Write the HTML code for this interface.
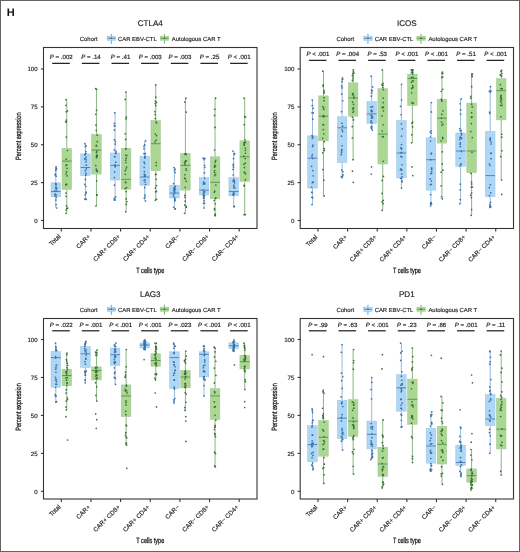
<!DOCTYPE html>
<html><head><meta charset="utf-8"><style>
html,body{margin:0;padding:0;background:#fff;}
svg{display:block;font-family:"Liberation Sans", sans-serif;will-change:transform;text-rendering:geometricPrecision;}
</style></head><body>
<svg width="520" height="552" viewBox="0 0 520 552">
<rect x="0" y="0" width="520" height="552" fill="#fff"/>
<rect x="0.5" y="0.5" width="519" height="551" fill="none" stroke="#646464" stroke-width="1"/>
<text x="6.8" y="16" font-size="11" font-weight="bold" fill="#111">H</text>
<text x="150.25" y="25.8" font-size="8.1" text-anchor="middle" fill="#1a1a1a" stroke="#1a1a1a" stroke-width="0.15">CTLA4</text>
<text x="79.85" y="40.7" font-size="5.9" fill="#222" stroke="#222" stroke-width="0.15">Cohort</text>
<line x1="111.35" y1="33.8" x2="111.35" y2="43.8" stroke="#4f88bf" stroke-width="0.8"/>
<rect x="107.15" y="36.1" width="8.4" height="4.4" fill="#aed6f5" stroke="#9cc2e2" stroke-width="0.4"/>
<line x1="107.15" y1="38.3" x2="115.55" y2="38.3" stroke="#4f88bf" stroke-width="0.8"/>
<circle cx="111.35" cy="38.2" r="0.85" fill="#3a70a8"/>
<line x1="164.45" y1="33.8" x2="164.45" y2="43.8" stroke="#5a9a4c" stroke-width="0.8"/>
<rect x="160.25" y="36.1" width="8.4" height="4.4" fill="#aad893" stroke="#a6c498" stroke-width="0.4"/>
<line x1="160.25" y1="38.3" x2="168.65" y2="38.3" stroke="#5a9a4c" stroke-width="0.8"/>
<circle cx="164.45" cy="38.2" r="0.85" fill="#3a6e38"/>
<text x="118.05" y="40.7" font-size="5.9" fill="#222" stroke="#222" stroke-width="0.15">CAR EBV-CTL</text>
<text x="171.85" y="40.7" font-size="5.9" fill="#222" stroke="#222" stroke-width="0.15">Autologous CAR T</text>
<line x1="55.79" y1="166.9" x2="55.79" y2="182.8" stroke="#7ca8d2" stroke-width="0.8"/>
<line x1="55.79" y1="196.8" x2="55.79" y2="208" stroke="#7ca8d2" stroke-width="0.8"/>
<rect x="50.99" y="182.8" width="9.6" height="14" fill="#aed6f5" stroke="#9cc2e2" stroke-width="0.5"/>
<line x1="50.99" y1="191.5" x2="60.59" y2="191.5" stroke="#4f88bf" stroke-width="1"/>
<circle cx="56.2" cy="184.91" r="0.85" fill="#3a70a8"/>
<circle cx="55.41" cy="183.81" r="0.85" fill="#3a70a8"/>
<circle cx="56.66" cy="187.92" r="0.85" fill="#3a70a8"/>
<circle cx="55.1" cy="174.97" r="0.85" fill="#3a70a8"/>
<circle cx="55.64" cy="173.79" r="0.85" fill="#3a70a8"/>
<circle cx="56.25" cy="168.34" r="0.85" fill="#3a70a8"/>
<circle cx="55.17" cy="194.38" r="0.85" fill="#3a70a8"/>
<circle cx="55.77" cy="170.45" r="0.85" fill="#3a70a8"/>
<circle cx="54.96" cy="196.07" r="0.85" fill="#3a70a8"/>
<circle cx="56.09" cy="188.35" r="0.85" fill="#3a70a8"/>
<circle cx="56.27" cy="197.32" r="0.85" fill="#3a70a8"/>
<circle cx="55.92" cy="200.04" r="0.85" fill="#3a70a8"/>
<circle cx="56.47" cy="168.77" r="0.85" fill="#3a70a8"/>
<circle cx="55.46" cy="194.23" r="0.85" fill="#3a70a8"/>
<circle cx="56.14" cy="176.15" r="0.85" fill="#3a70a8"/>
<circle cx="55.96" cy="188.01" r="0.85" fill="#3a70a8"/>
<circle cx="55.94" cy="183.68" r="0.85" fill="#3a70a8"/>
<circle cx="55.71" cy="170.17" r="0.85" fill="#3a70a8"/>
<circle cx="56.4" cy="188.79" r="0.85" fill="#3a70a8"/>
<circle cx="56.59" cy="191" r="0.85" fill="#3a70a8"/>
<circle cx="55.75" cy="187" r="0.85" fill="#3a70a8"/>
<circle cx="56.09" cy="204.63" r="0.85" fill="#3a70a8"/>
<circle cx="55" cy="190.84" r="0.85" fill="#3a70a8"/>
<circle cx="56.15" cy="195.05" r="0.85" fill="#3a70a8"/>
<circle cx="56.06" cy="166.9" r="0.85" fill="#3a70a8"/>
<circle cx="56.68" cy="208" r="0.85" fill="#3a70a8"/>
<line x1="66.79" y1="99.7" x2="66.79" y2="148.3" stroke="#6fa266" stroke-width="0.8"/>
<line x1="66.79" y1="189.5" x2="66.79" y2="213.3" stroke="#6fa266" stroke-width="0.8"/>
<rect x="61.99" y="148.3" width="9.6" height="41.2" fill="#aad893" stroke="#a6c498" stroke-width="0.5"/>
<line x1="61.99" y1="161.1" x2="71.59" y2="161.1" stroke="#5a9a4c" stroke-width="1"/>
<circle cx="66.08" cy="196.27" r="0.85" fill="#3a6e38"/>
<circle cx="67.03" cy="175.85" r="0.85" fill="#3a6e38"/>
<circle cx="66" cy="122.14" r="0.85" fill="#3a6e38"/>
<circle cx="66.01" cy="105.39" r="0.85" fill="#3a6e38"/>
<circle cx="66.27" cy="137.04" r="0.85" fill="#3a6e38"/>
<circle cx="66.18" cy="111.73" r="0.85" fill="#3a6e38"/>
<circle cx="66.5" cy="184.2" r="0.85" fill="#3a6e38"/>
<circle cx="65.99" cy="121.53" r="0.85" fill="#3a6e38"/>
<circle cx="65.89" cy="184.7" r="0.85" fill="#3a6e38"/>
<circle cx="66.16" cy="210.06" r="0.85" fill="#3a6e38"/>
<circle cx="66.07" cy="165.41" r="0.85" fill="#3a6e38"/>
<circle cx="66.55" cy="184.73" r="0.85" fill="#3a6e38"/>
<circle cx="65.94" cy="193.09" r="0.85" fill="#3a6e38"/>
<circle cx="67.47" cy="110.97" r="0.85" fill="#3a6e38"/>
<circle cx="67" cy="168.28" r="0.85" fill="#3a6e38"/>
<circle cx="66.16" cy="159.13" r="0.85" fill="#3a6e38"/>
<circle cx="66.35" cy="120.06" r="0.85" fill="#3a6e38"/>
<circle cx="66.52" cy="171.63" r="0.85" fill="#3a6e38"/>
<circle cx="66.55" cy="205.93" r="0.85" fill="#3a6e38"/>
<circle cx="66.11" cy="173.74" r="0.85" fill="#3a6e38"/>
<circle cx="67.42" cy="150.52" r="0.85" fill="#3a6e38"/>
<circle cx="67.68" cy="208.06" r="0.85" fill="#3a6e38"/>
<circle cx="66.73" cy="208.49" r="0.85" fill="#3a6e38"/>
<circle cx="66.76" cy="164.74" r="0.85" fill="#3a6e38"/>
<circle cx="66.05" cy="99.7" r="0.85" fill="#3a6e38"/>
<circle cx="66.08" cy="213.3" r="0.85" fill="#3a6e38"/>
<line x1="85.44" y1="143.7" x2="85.44" y2="153.9" stroke="#7ca8d2" stroke-width="0.8"/>
<line x1="85.44" y1="175.6" x2="85.44" y2="199.4" stroke="#7ca8d2" stroke-width="0.8"/>
<rect x="80.64" y="153.9" width="9.6" height="21.7" fill="#aed6f5" stroke="#9cc2e2" stroke-width="0.5"/>
<line x1="80.64" y1="167.5" x2="90.24" y2="167.5" stroke="#4f88bf" stroke-width="1"/>
<circle cx="86.06" cy="159.65" r="0.85" fill="#3a70a8"/>
<circle cx="85.41" cy="179.44" r="0.85" fill="#3a70a8"/>
<circle cx="85.72" cy="153.4" r="0.85" fill="#3a70a8"/>
<circle cx="85.98" cy="157.08" r="0.85" fill="#3a70a8"/>
<circle cx="84.7" cy="154.49" r="0.85" fill="#3a70a8"/>
<circle cx="85.73" cy="175.13" r="0.85" fill="#3a70a8"/>
<circle cx="86.18" cy="192.17" r="0.85" fill="#3a70a8"/>
<circle cx="85.95" cy="161.86" r="0.85" fill="#3a70a8"/>
<circle cx="85.89" cy="151.57" r="0.85" fill="#3a70a8"/>
<circle cx="85.4" cy="170.81" r="0.85" fill="#3a70a8"/>
<circle cx="84.87" cy="158.74" r="0.85" fill="#3a70a8"/>
<circle cx="85.96" cy="199.04" r="0.85" fill="#3a70a8"/>
<circle cx="85.14" cy="194.78" r="0.85" fill="#3a70a8"/>
<circle cx="85.99" cy="193.21" r="0.85" fill="#3a70a8"/>
<circle cx="86.29" cy="165.13" r="0.85" fill="#3a70a8"/>
<circle cx="85.26" cy="154.53" r="0.85" fill="#3a70a8"/>
<circle cx="85.27" cy="146.55" r="0.85" fill="#3a70a8"/>
<circle cx="86.25" cy="168.93" r="0.85" fill="#3a70a8"/>
<circle cx="85.85" cy="186.24" r="0.85" fill="#3a70a8"/>
<circle cx="84.85" cy="199.12" r="0.85" fill="#3a70a8"/>
<circle cx="84.77" cy="184.28" r="0.85" fill="#3a70a8"/>
<circle cx="84.82" cy="158.82" r="0.85" fill="#3a70a8"/>
<circle cx="86.17" cy="145.78" r="0.85" fill="#3a70a8"/>
<circle cx="86" cy="173.44" r="0.85" fill="#3a70a8"/>
<circle cx="84.81" cy="143.7" r="0.85" fill="#3a70a8"/>
<circle cx="86.03" cy="199.4" r="0.85" fill="#3a70a8"/>
<line x1="96.44" y1="88.6" x2="96.44" y2="134.4" stroke="#6fa266" stroke-width="0.8"/>
<line x1="96.44" y1="174.1" x2="96.44" y2="206" stroke="#6fa266" stroke-width="0.8"/>
<rect x="91.64" y="134.4" width="9.6" height="39.7" fill="#aad893" stroke="#a6c498" stroke-width="0.5"/>
<line x1="91.64" y1="150.1" x2="101.24" y2="150.1" stroke="#5a9a4c" stroke-width="1"/>
<circle cx="96.93" cy="195.07" r="0.85" fill="#3a6e38"/>
<circle cx="96.46" cy="156.18" r="0.85" fill="#3a6e38"/>
<circle cx="96.56" cy="89.25" r="0.85" fill="#3a6e38"/>
<circle cx="96.91" cy="194.82" r="0.85" fill="#3a6e38"/>
<circle cx="97.19" cy="171.46" r="0.85" fill="#3a6e38"/>
<circle cx="96.34" cy="169.01" r="0.85" fill="#3a6e38"/>
<circle cx="96.65" cy="180.83" r="0.85" fill="#3a6e38"/>
<circle cx="96.45" cy="146.03" r="0.85" fill="#3a6e38"/>
<circle cx="96.47" cy="157.68" r="0.85" fill="#3a6e38"/>
<circle cx="96.79" cy="151.03" r="0.85" fill="#3a6e38"/>
<circle cx="96.36" cy="130.28" r="0.85" fill="#3a6e38"/>
<circle cx="96.5" cy="152.59" r="0.85" fill="#3a6e38"/>
<circle cx="96.4" cy="170.3" r="0.85" fill="#3a6e38"/>
<circle cx="97.24" cy="170.83" r="0.85" fill="#3a6e38"/>
<circle cx="96.8" cy="155.51" r="0.85" fill="#3a6e38"/>
<circle cx="97.12" cy="135.14" r="0.85" fill="#3a6e38"/>
<circle cx="97.24" cy="141.67" r="0.85" fill="#3a6e38"/>
<circle cx="96.01" cy="125.2" r="0.85" fill="#3a6e38"/>
<circle cx="96.55" cy="110.29" r="0.85" fill="#3a6e38"/>
<circle cx="97.24" cy="156.49" r="0.85" fill="#3a6e38"/>
<circle cx="97.06" cy="154.98" r="0.85" fill="#3a6e38"/>
<circle cx="95.79" cy="165.54" r="0.85" fill="#3a6e38"/>
<circle cx="95.76" cy="114.26" r="0.85" fill="#3a6e38"/>
<circle cx="96.34" cy="145.39" r="0.85" fill="#3a6e38"/>
<circle cx="95.68" cy="88.6" r="0.85" fill="#3a6e38"/>
<circle cx="95.98" cy="206" r="0.85" fill="#3a6e38"/>
<line x1="115.1" y1="112.7" x2="115.1" y2="153" stroke="#7ca8d2" stroke-width="0.8"/>
<line x1="115.1" y1="180" x2="115.1" y2="200.2" stroke="#7ca8d2" stroke-width="0.8"/>
<rect x="110.3" y="153" width="9.6" height="27" fill="#aed6f5" stroke="#9cc2e2" stroke-width="0.5"/>
<line x1="110.3" y1="165.4" x2="119.9" y2="165.4" stroke="#4f88bf" stroke-width="1"/>
<circle cx="114.36" cy="139.68" r="0.85" fill="#3a70a8"/>
<circle cx="114.3" cy="198.12" r="0.85" fill="#3a70a8"/>
<circle cx="115.44" cy="141.56" r="0.85" fill="#3a70a8"/>
<circle cx="114.96" cy="156.86" r="0.85" fill="#3a70a8"/>
<circle cx="114.33" cy="199.54" r="0.85" fill="#3a70a8"/>
<circle cx="115.89" cy="151.09" r="0.85" fill="#3a70a8"/>
<circle cx="115.34" cy="166.16" r="0.85" fill="#3a70a8"/>
<circle cx="115.64" cy="196.82" r="0.85" fill="#3a70a8"/>
<circle cx="114.35" cy="130.09" r="0.85" fill="#3a70a8"/>
<circle cx="115.74" cy="162.16" r="0.85" fill="#3a70a8"/>
<circle cx="114.32" cy="125.54" r="0.85" fill="#3a70a8"/>
<circle cx="115.75" cy="153.53" r="0.85" fill="#3a70a8"/>
<circle cx="115.01" cy="164.89" r="0.85" fill="#3a70a8"/>
<circle cx="114.81" cy="126.06" r="0.85" fill="#3a70a8"/>
<circle cx="115.19" cy="166.83" r="0.85" fill="#3a70a8"/>
<circle cx="115.87" cy="152.4" r="0.85" fill="#3a70a8"/>
<circle cx="114.68" cy="199.63" r="0.85" fill="#3a70a8"/>
<circle cx="114.43" cy="123.4" r="0.85" fill="#3a70a8"/>
<circle cx="115.15" cy="144.09" r="0.85" fill="#3a70a8"/>
<circle cx="114.63" cy="156.5" r="0.85" fill="#3a70a8"/>
<circle cx="114.39" cy="177.61" r="0.85" fill="#3a70a8"/>
<circle cx="114.49" cy="185.22" r="0.85" fill="#3a70a8"/>
<circle cx="114.29" cy="149.74" r="0.85" fill="#3a70a8"/>
<circle cx="114.56" cy="171.91" r="0.85" fill="#3a70a8"/>
<circle cx="114.76" cy="112.7" r="0.85" fill="#3a70a8"/>
<circle cx="114.75" cy="200.2" r="0.85" fill="#3a70a8"/>
<line x1="126.1" y1="92.1" x2="126.1" y2="148.3" stroke="#6fa266" stroke-width="0.8"/>
<line x1="126.1" y1="189.2" x2="126.1" y2="211.8" stroke="#6fa266" stroke-width="0.8"/>
<rect x="121.3" y="148.3" width="9.6" height="40.9" fill="#aad893" stroke="#a6c498" stroke-width="0.5"/>
<line x1="121.3" y1="179.4" x2="130.9" y2="179.4" stroke="#5a9a4c" stroke-width="1"/>
<circle cx="125.64" cy="160.16" r="0.85" fill="#3a6e38"/>
<circle cx="126.94" cy="155.58" r="0.85" fill="#3a6e38"/>
<circle cx="125.75" cy="149.04" r="0.85" fill="#3a6e38"/>
<circle cx="125.84" cy="148.93" r="0.85" fill="#3a6e38"/>
<circle cx="125.2" cy="170.84" r="0.85" fill="#3a6e38"/>
<circle cx="125.88" cy="118.78" r="0.85" fill="#3a6e38"/>
<circle cx="126.05" cy="191.6" r="0.85" fill="#3a6e38"/>
<circle cx="126.1" cy="198.97" r="0.85" fill="#3a6e38"/>
<circle cx="125.56" cy="182.44" r="0.85" fill="#3a6e38"/>
<circle cx="126.11" cy="169.02" r="0.85" fill="#3a6e38"/>
<circle cx="125.21" cy="188.48" r="0.85" fill="#3a6e38"/>
<circle cx="125.67" cy="182.34" r="0.85" fill="#3a6e38"/>
<circle cx="125.36" cy="174.31" r="0.85" fill="#3a6e38"/>
<circle cx="125.92" cy="162.51" r="0.85" fill="#3a6e38"/>
<circle cx="125.27" cy="99.4" r="0.85" fill="#3a6e38"/>
<circle cx="125.24" cy="133.74" r="0.85" fill="#3a6e38"/>
<circle cx="125.74" cy="154.98" r="0.85" fill="#3a6e38"/>
<circle cx="125.62" cy="139.38" r="0.85" fill="#3a6e38"/>
<circle cx="126.25" cy="204.35" r="0.85" fill="#3a6e38"/>
<circle cx="126.15" cy="158.21" r="0.85" fill="#3a6e38"/>
<circle cx="126.55" cy="167.09" r="0.85" fill="#3a6e38"/>
<circle cx="126.38" cy="117.16" r="0.85" fill="#3a6e38"/>
<circle cx="126.49" cy="187.64" r="0.85" fill="#3a6e38"/>
<circle cx="126.78" cy="201.56" r="0.85" fill="#3a6e38"/>
<circle cx="125.9" cy="92.1" r="0.85" fill="#3a6e38"/>
<circle cx="125.78" cy="211.8" r="0.85" fill="#3a6e38"/>
<line x1="144.75" y1="140.8" x2="144.75" y2="156.2" stroke="#7ca8d2" stroke-width="0.8"/>
<line x1="144.75" y1="185.2" x2="144.75" y2="201" stroke="#7ca8d2" stroke-width="0.8"/>
<rect x="139.95" y="156.2" width="9.6" height="29" fill="#aed6f5" stroke="#9cc2e2" stroke-width="0.5"/>
<line x1="139.95" y1="177" x2="149.55" y2="177" stroke="#4f88bf" stroke-width="1"/>
<circle cx="144.71" cy="187.56" r="0.85" fill="#3a70a8"/>
<circle cx="145.08" cy="174.85" r="0.85" fill="#3a70a8"/>
<circle cx="145.23" cy="153.66" r="0.85" fill="#3a70a8"/>
<circle cx="144.96" cy="195.11" r="0.85" fill="#3a70a8"/>
<circle cx="145.01" cy="179.75" r="0.85" fill="#3a70a8"/>
<circle cx="143.99" cy="148.87" r="0.85" fill="#3a70a8"/>
<circle cx="144.12" cy="180.41" r="0.85" fill="#3a70a8"/>
<circle cx="144.31" cy="198.26" r="0.85" fill="#3a70a8"/>
<circle cx="145.19" cy="182.09" r="0.85" fill="#3a70a8"/>
<circle cx="144.4" cy="176.31" r="0.85" fill="#3a70a8"/>
<circle cx="144.87" cy="157.1" r="0.85" fill="#3a70a8"/>
<circle cx="143.87" cy="146.35" r="0.85" fill="#3a70a8"/>
<circle cx="143.96" cy="153.67" r="0.85" fill="#3a70a8"/>
<circle cx="144.33" cy="174.41" r="0.85" fill="#3a70a8"/>
<circle cx="145.06" cy="175.94" r="0.85" fill="#3a70a8"/>
<circle cx="145.1" cy="156.3" r="0.85" fill="#3a70a8"/>
<circle cx="145.07" cy="197.02" r="0.85" fill="#3a70a8"/>
<circle cx="144.37" cy="171.72" r="0.85" fill="#3a70a8"/>
<circle cx="144.78" cy="158.12" r="0.85" fill="#3a70a8"/>
<circle cx="144.69" cy="163.51" r="0.85" fill="#3a70a8"/>
<circle cx="144.69" cy="144.89" r="0.85" fill="#3a70a8"/>
<circle cx="144.06" cy="162.15" r="0.85" fill="#3a70a8"/>
<circle cx="145.46" cy="184.5" r="0.85" fill="#3a70a8"/>
<circle cx="144.21" cy="167.29" r="0.85" fill="#3a70a8"/>
<circle cx="145.61" cy="140.8" r="0.85" fill="#3a70a8"/>
<circle cx="145.54" cy="201" r="0.85" fill="#3a70a8"/>
<line x1="155.75" y1="84.9" x2="155.75" y2="120.5" stroke="#6fa266" stroke-width="0.8"/>
<line x1="155.75" y1="170.7" x2="155.75" y2="200.2" stroke="#6fa266" stroke-width="0.8"/>
<rect x="150.95" y="120.5" width="9.6" height="50.2" fill="#aad893" stroke="#a6c498" stroke-width="0.5"/>
<line x1="150.95" y1="143.7" x2="160.55" y2="143.7" stroke="#5a9a4c" stroke-width="1"/>
<circle cx="155.36" cy="101.24" r="0.85" fill="#3a6e38"/>
<circle cx="156.53" cy="199.26" r="0.85" fill="#3a6e38"/>
<circle cx="155.3" cy="133.99" r="0.85" fill="#3a6e38"/>
<circle cx="155.33" cy="118.56" r="0.85" fill="#3a6e38"/>
<circle cx="155.77" cy="105.6" r="0.85" fill="#3a6e38"/>
<circle cx="155.19" cy="103.56" r="0.85" fill="#3a6e38"/>
<circle cx="155.52" cy="174.61" r="0.85" fill="#3a6e38"/>
<circle cx="156.57" cy="185.71" r="0.85" fill="#3a6e38"/>
<circle cx="156.44" cy="191.45" r="0.85" fill="#3a6e38"/>
<circle cx="156.31" cy="165.56" r="0.85" fill="#3a6e38"/>
<circle cx="155.99" cy="121.75" r="0.85" fill="#3a6e38"/>
<circle cx="156.49" cy="102.4" r="0.85" fill="#3a6e38"/>
<circle cx="156.54" cy="135.66" r="0.85" fill="#3a6e38"/>
<circle cx="155.84" cy="97.14" r="0.85" fill="#3a6e38"/>
<circle cx="156.15" cy="162.68" r="0.85" fill="#3a6e38"/>
<circle cx="154.94" cy="111.63" r="0.85" fill="#3a6e38"/>
<circle cx="156.17" cy="174.24" r="0.85" fill="#3a6e38"/>
<circle cx="155.66" cy="191.73" r="0.85" fill="#3a6e38"/>
<circle cx="156.2" cy="179.25" r="0.85" fill="#3a6e38"/>
<circle cx="156.01" cy="140.22" r="0.85" fill="#3a6e38"/>
<circle cx="155.37" cy="188.08" r="0.85" fill="#3a6e38"/>
<circle cx="154.94" cy="141.99" r="0.85" fill="#3a6e38"/>
<circle cx="156.52" cy="122.92" r="0.85" fill="#3a6e38"/>
<circle cx="155.08" cy="114.61" r="0.85" fill="#3a6e38"/>
<circle cx="155.7" cy="84.9" r="0.85" fill="#3a6e38"/>
<circle cx="155.47" cy="200.2" r="0.85" fill="#3a6e38"/>
<line x1="174.4" y1="167.5" x2="174.4" y2="185.2" stroke="#7ca8d2" stroke-width="0.8"/>
<line x1="174.4" y1="198" x2="174.4" y2="208.9" stroke="#7ca8d2" stroke-width="0.8"/>
<rect x="169.6" y="185.2" width="9.6" height="12.8" fill="#aed6f5" stroke="#9cc2e2" stroke-width="0.5"/>
<line x1="169.6" y1="193" x2="179.2" y2="193" stroke="#4f88bf" stroke-width="1"/>
<circle cx="173.56" cy="194.66" r="0.85" fill="#3a70a8"/>
<circle cx="174.78" cy="200.84" r="0.85" fill="#3a70a8"/>
<circle cx="175.12" cy="189.05" r="0.85" fill="#3a70a8"/>
<circle cx="174.35" cy="190.25" r="0.85" fill="#3a70a8"/>
<circle cx="174.56" cy="170.36" r="0.85" fill="#3a70a8"/>
<circle cx="173.5" cy="183.54" r="0.85" fill="#3a70a8"/>
<circle cx="174.21" cy="188.02" r="0.85" fill="#3a70a8"/>
<circle cx="175.17" cy="208.86" r="0.85" fill="#3a70a8"/>
<circle cx="174.99" cy="186.99" r="0.85" fill="#3a70a8"/>
<circle cx="175.04" cy="169.11" r="0.85" fill="#3a70a8"/>
<circle cx="175.25" cy="186.37" r="0.85" fill="#3a70a8"/>
<circle cx="173.95" cy="188.51" r="0.85" fill="#3a70a8"/>
<circle cx="173.7" cy="196.56" r="0.85" fill="#3a70a8"/>
<circle cx="173.78" cy="190.48" r="0.85" fill="#3a70a8"/>
<circle cx="174.44" cy="191.91" r="0.85" fill="#3a70a8"/>
<circle cx="174.73" cy="189.53" r="0.85" fill="#3a70a8"/>
<circle cx="175.2" cy="172.41" r="0.85" fill="#3a70a8"/>
<circle cx="174.8" cy="199.37" r="0.85" fill="#3a70a8"/>
<circle cx="174.67" cy="193.26" r="0.85" fill="#3a70a8"/>
<circle cx="174.88" cy="200.35" r="0.85" fill="#3a70a8"/>
<circle cx="174.33" cy="188.38" r="0.85" fill="#3a70a8"/>
<circle cx="174.5" cy="190.91" r="0.85" fill="#3a70a8"/>
<circle cx="173.57" cy="207.25" r="0.85" fill="#3a70a8"/>
<circle cx="174.91" cy="198.24" r="0.85" fill="#3a70a8"/>
<circle cx="173.92" cy="167.5" r="0.85" fill="#3a70a8"/>
<circle cx="175.16" cy="208.9" r="0.85" fill="#3a70a8"/>
<line x1="185.4" y1="98.2" x2="185.4" y2="153.3" stroke="#6fa266" stroke-width="0.8"/>
<line x1="185.4" y1="190.1" x2="185.4" y2="213.3" stroke="#6fa266" stroke-width="0.8"/>
<rect x="180.6" y="153.3" width="9.6" height="36.8" fill="#aad893" stroke="#a6c498" stroke-width="0.5"/>
<line x1="180.6" y1="165.4" x2="190.2" y2="165.4" stroke="#5a9a4c" stroke-width="1"/>
<circle cx="185.03" cy="164.48" r="0.85" fill="#3a6e38"/>
<circle cx="186.22" cy="112.07" r="0.85" fill="#3a6e38"/>
<circle cx="185.4" cy="179.01" r="0.85" fill="#3a6e38"/>
<circle cx="184.84" cy="102.08" r="0.85" fill="#3a6e38"/>
<circle cx="184.9" cy="174.75" r="0.85" fill="#3a6e38"/>
<circle cx="185.25" cy="161.53" r="0.85" fill="#3a6e38"/>
<circle cx="185.7" cy="153.68" r="0.85" fill="#3a6e38"/>
<circle cx="186.21" cy="170.25" r="0.85" fill="#3a6e38"/>
<circle cx="184.77" cy="205.05" r="0.85" fill="#3a6e38"/>
<circle cx="185.21" cy="201.13" r="0.85" fill="#3a6e38"/>
<circle cx="184.89" cy="162.39" r="0.85" fill="#3a6e38"/>
<circle cx="186.26" cy="206.45" r="0.85" fill="#3a6e38"/>
<circle cx="184.76" cy="154.1" r="0.85" fill="#3a6e38"/>
<circle cx="184.6" cy="178.12" r="0.85" fill="#3a6e38"/>
<circle cx="184.61" cy="162.77" r="0.85" fill="#3a6e38"/>
<circle cx="185.21" cy="187.35" r="0.85" fill="#3a6e38"/>
<circle cx="186.12" cy="154.55" r="0.85" fill="#3a6e38"/>
<circle cx="186.09" cy="168.78" r="0.85" fill="#3a6e38"/>
<circle cx="185.82" cy="160.59" r="0.85" fill="#3a6e38"/>
<circle cx="186.3" cy="207.25" r="0.85" fill="#3a6e38"/>
<circle cx="186.18" cy="160.85" r="0.85" fill="#3a6e38"/>
<circle cx="185.1" cy="197.33" r="0.85" fill="#3a6e38"/>
<circle cx="184.84" cy="195.45" r="0.85" fill="#3a6e38"/>
<circle cx="186.19" cy="181.29" r="0.85" fill="#3a6e38"/>
<circle cx="185.85" cy="98.2" r="0.85" fill="#3a6e38"/>
<circle cx="184.56" cy="213.3" r="0.85" fill="#3a6e38"/>
<line x1="204.06" y1="158.2" x2="204.06" y2="177.6" stroke="#7ca8d2" stroke-width="0.8"/>
<line x1="204.06" y1="195" x2="204.06" y2="208" stroke="#7ca8d2" stroke-width="0.8"/>
<rect x="199.26" y="177.6" width="9.6" height="17.4" fill="#aed6f5" stroke="#9cc2e2" stroke-width="0.5"/>
<line x1="199.26" y1="190.1" x2="208.86" y2="190.1" stroke="#4f88bf" stroke-width="1"/>
<circle cx="203.58" cy="184.19" r="0.85" fill="#3a70a8"/>
<circle cx="204.01" cy="183.37" r="0.85" fill="#3a70a8"/>
<circle cx="204.88" cy="158.26" r="0.85" fill="#3a70a8"/>
<circle cx="204.87" cy="183.72" r="0.85" fill="#3a70a8"/>
<circle cx="203.85" cy="196.61" r="0.85" fill="#3a70a8"/>
<circle cx="203.61" cy="197.7" r="0.85" fill="#3a70a8"/>
<circle cx="203.93" cy="191.9" r="0.85" fill="#3a70a8"/>
<circle cx="204.04" cy="200.62" r="0.85" fill="#3a70a8"/>
<circle cx="204.83" cy="167.39" r="0.85" fill="#3a70a8"/>
<circle cx="203.48" cy="193.6" r="0.85" fill="#3a70a8"/>
<circle cx="204.6" cy="165.27" r="0.85" fill="#3a70a8"/>
<circle cx="204.48" cy="195.39" r="0.85" fill="#3a70a8"/>
<circle cx="204.64" cy="191.73" r="0.85" fill="#3a70a8"/>
<circle cx="204.55" cy="178.31" r="0.85" fill="#3a70a8"/>
<circle cx="204.25" cy="159.41" r="0.85" fill="#3a70a8"/>
<circle cx="203.75" cy="198.34" r="0.85" fill="#3a70a8"/>
<circle cx="203.73" cy="193.23" r="0.85" fill="#3a70a8"/>
<circle cx="203.81" cy="182.34" r="0.85" fill="#3a70a8"/>
<circle cx="204.56" cy="203.02" r="0.85" fill="#3a70a8"/>
<circle cx="203.3" cy="190.07" r="0.85" fill="#3a70a8"/>
<circle cx="203.51" cy="182.4" r="0.85" fill="#3a70a8"/>
<circle cx="204.51" cy="172.86" r="0.85" fill="#3a70a8"/>
<circle cx="203.6" cy="203.24" r="0.85" fill="#3a70a8"/>
<circle cx="203.27" cy="195.32" r="0.85" fill="#3a70a8"/>
<circle cx="203.22" cy="158.2" r="0.85" fill="#3a70a8"/>
<circle cx="204.15" cy="208" r="0.85" fill="#3a70a8"/>
<line x1="215.06" y1="98.2" x2="215.06" y2="156.8" stroke="#6fa266" stroke-width="0.8"/>
<line x1="215.06" y1="198.8" x2="215.06" y2="215.6" stroke="#6fa266" stroke-width="0.8"/>
<rect x="210.26" y="156.8" width="9.6" height="42" fill="#aad893" stroke="#a6c498" stroke-width="0.5"/>
<line x1="210.26" y1="182.3" x2="219.86" y2="182.3" stroke="#5a9a4c" stroke-width="1"/>
<circle cx="215.83" cy="197.97" r="0.85" fill="#3a6e38"/>
<circle cx="214.83" cy="215.4" r="0.85" fill="#3a6e38"/>
<circle cx="215.71" cy="160.33" r="0.85" fill="#3a6e38"/>
<circle cx="214.96" cy="127.41" r="0.85" fill="#3a6e38"/>
<circle cx="214.62" cy="175.57" r="0.85" fill="#3a6e38"/>
<circle cx="215.56" cy="174.31" r="0.85" fill="#3a6e38"/>
<circle cx="215.86" cy="185.11" r="0.85" fill="#3a6e38"/>
<circle cx="214.35" cy="192.37" r="0.85" fill="#3a6e38"/>
<circle cx="215.23" cy="161.89" r="0.85" fill="#3a6e38"/>
<circle cx="215.27" cy="203.74" r="0.85" fill="#3a6e38"/>
<circle cx="214.55" cy="172.46" r="0.85" fill="#3a6e38"/>
<circle cx="214.82" cy="165.17" r="0.85" fill="#3a6e38"/>
<circle cx="214.41" cy="167.1" r="0.85" fill="#3a6e38"/>
<circle cx="214.52" cy="150.01" r="0.85" fill="#3a6e38"/>
<circle cx="214.61" cy="170.51" r="0.85" fill="#3a6e38"/>
<circle cx="215.23" cy="198.48" r="0.85" fill="#3a6e38"/>
<circle cx="215.33" cy="166.52" r="0.85" fill="#3a6e38"/>
<circle cx="214.52" cy="209.78" r="0.85" fill="#3a6e38"/>
<circle cx="214.18" cy="200.52" r="0.85" fill="#3a6e38"/>
<circle cx="214.74" cy="191.2" r="0.85" fill="#3a6e38"/>
<circle cx="215.38" cy="214.16" r="0.85" fill="#3a6e38"/>
<circle cx="214.49" cy="115.41" r="0.85" fill="#3a6e38"/>
<circle cx="214.72" cy="109.31" r="0.85" fill="#3a6e38"/>
<circle cx="214.52" cy="208.6" r="0.85" fill="#3a6e38"/>
<circle cx="215.59" cy="98.2" r="0.85" fill="#3a6e38"/>
<circle cx="215.14" cy="215.6" r="0.85" fill="#3a6e38"/>
<line x1="233.71" y1="151" x2="233.71" y2="177.6" stroke="#7ca8d2" stroke-width="0.8"/>
<line x1="233.71" y1="195.9" x2="233.71" y2="206.6" stroke="#7ca8d2" stroke-width="0.8"/>
<rect x="228.91" y="177.6" width="9.6" height="18.3" fill="#aed6f5" stroke="#9cc2e2" stroke-width="0.5"/>
<line x1="228.91" y1="191.5" x2="238.51" y2="191.5" stroke="#4f88bf" stroke-width="1"/>
<circle cx="234.51" cy="153.7" r="0.85" fill="#3a70a8"/>
<circle cx="234.56" cy="187.67" r="0.85" fill="#3a70a8"/>
<circle cx="233.68" cy="179.27" r="0.85" fill="#3a70a8"/>
<circle cx="232.9" cy="169.5" r="0.85" fill="#3a70a8"/>
<circle cx="234.48" cy="182.78" r="0.85" fill="#3a70a8"/>
<circle cx="233.51" cy="195.04" r="0.85" fill="#3a70a8"/>
<circle cx="234.44" cy="187.97" r="0.85" fill="#3a70a8"/>
<circle cx="233.92" cy="185.22" r="0.85" fill="#3a70a8"/>
<circle cx="234.29" cy="206.56" r="0.85" fill="#3a70a8"/>
<circle cx="233.1" cy="181.21" r="0.85" fill="#3a70a8"/>
<circle cx="234.22" cy="181.33" r="0.85" fill="#3a70a8"/>
<circle cx="233.21" cy="174.98" r="0.85" fill="#3a70a8"/>
<circle cx="233.54" cy="192.61" r="0.85" fill="#3a70a8"/>
<circle cx="234.33" cy="193.76" r="0.85" fill="#3a70a8"/>
<circle cx="234.3" cy="180.57" r="0.85" fill="#3a70a8"/>
<circle cx="233.14" cy="165.67" r="0.85" fill="#3a70a8"/>
<circle cx="233.2" cy="194.25" r="0.85" fill="#3a70a8"/>
<circle cx="233.53" cy="167.55" r="0.85" fill="#3a70a8"/>
<circle cx="233.74" cy="186.83" r="0.85" fill="#3a70a8"/>
<circle cx="233.5" cy="158.54" r="0.85" fill="#3a70a8"/>
<circle cx="233.03" cy="194.54" r="0.85" fill="#3a70a8"/>
<circle cx="233.25" cy="164.05" r="0.85" fill="#3a70a8"/>
<circle cx="234.11" cy="206.25" r="0.85" fill="#3a70a8"/>
<circle cx="234.42" cy="154.37" r="0.85" fill="#3a70a8"/>
<circle cx="232.88" cy="151" r="0.85" fill="#3a70a8"/>
<circle cx="233.82" cy="206.6" r="0.85" fill="#3a70a8"/>
<line x1="244.71" y1="98.2" x2="244.71" y2="140.8" stroke="#6fa266" stroke-width="0.8"/>
<line x1="244.71" y1="181.4" x2="244.71" y2="214.7" stroke="#6fa266" stroke-width="0.8"/>
<rect x="239.91" y="140.8" width="9.6" height="40.6" fill="#aad893" stroke="#a6c498" stroke-width="0.5"/>
<line x1="239.91" y1="156.8" x2="249.51" y2="156.8" stroke="#5a9a4c" stroke-width="1"/>
<circle cx="245.46" cy="142.35" r="0.85" fill="#3a6e38"/>
<circle cx="244.11" cy="185.32" r="0.85" fill="#3a6e38"/>
<circle cx="245.23" cy="163.13" r="0.85" fill="#3a6e38"/>
<circle cx="245.48" cy="153.23" r="0.85" fill="#3a6e38"/>
<circle cx="243.93" cy="164.45" r="0.85" fill="#3a6e38"/>
<circle cx="244.44" cy="167.55" r="0.85" fill="#3a6e38"/>
<circle cx="245.17" cy="158.6" r="0.85" fill="#3a6e38"/>
<circle cx="244.09" cy="124.56" r="0.85" fill="#3a6e38"/>
<circle cx="245.42" cy="150.35" r="0.85" fill="#3a6e38"/>
<circle cx="244.3" cy="172.47" r="0.85" fill="#3a6e38"/>
<circle cx="245.28" cy="148.09" r="0.85" fill="#3a6e38"/>
<circle cx="244.07" cy="145.15" r="0.85" fill="#3a6e38"/>
<circle cx="244.71" cy="116.54" r="0.85" fill="#3a6e38"/>
<circle cx="245.46" cy="117.03" r="0.85" fill="#3a6e38"/>
<circle cx="244.18" cy="142.46" r="0.85" fill="#3a6e38"/>
<circle cx="244.28" cy="144.14" r="0.85" fill="#3a6e38"/>
<circle cx="244.72" cy="172.37" r="0.85" fill="#3a6e38"/>
<circle cx="244.38" cy="143" r="0.85" fill="#3a6e38"/>
<circle cx="243.87" cy="156.14" r="0.85" fill="#3a6e38"/>
<circle cx="244.14" cy="185.93" r="0.85" fill="#3a6e38"/>
<circle cx="244.1" cy="214.57" r="0.85" fill="#3a6e38"/>
<circle cx="245.49" cy="173.89" r="0.85" fill="#3a6e38"/>
<circle cx="245.03" cy="140.02" r="0.85" fill="#3a6e38"/>
<circle cx="245.42" cy="179.64" r="0.85" fill="#3a6e38"/>
<circle cx="244.11" cy="98.2" r="0.85" fill="#3a6e38"/>
<circle cx="245.22" cy="214.7" r="0.85" fill="#3a6e38"/>
<text x="61.29" y="59.4" font-size="6.1" text-anchor="middle" fill="#222" stroke="#222" stroke-width="0.18"><tspan font-style="italic">P</tspan> = .002</text>
<line x1="52.19" y1="63.35" x2="69.79" y2="63.35" stroke="#1a1a1a" stroke-width="1.2"/>
<text x="90.94" y="59.4" font-size="6.1" text-anchor="middle" fill="#222" stroke="#222" stroke-width="0.18"><tspan font-style="italic">P</tspan> = .14</text>
<line x1="81.84" y1="63.35" x2="99.44" y2="63.35" stroke="#1a1a1a" stroke-width="1.2"/>
<text x="120.6" y="59.4" font-size="6.1" text-anchor="middle" fill="#222" stroke="#222" stroke-width="0.18"><tspan font-style="italic">P</tspan> = .41</text>
<line x1="111.5" y1="63.35" x2="129.1" y2="63.35" stroke="#1a1a1a" stroke-width="1.2"/>
<text x="150.25" y="59.4" font-size="6.1" text-anchor="middle" fill="#222" stroke="#222" stroke-width="0.18"><tspan font-style="italic">P</tspan> = .003</text>
<line x1="141.15" y1="63.35" x2="158.75" y2="63.35" stroke="#1a1a1a" stroke-width="1.2"/>
<text x="179.9" y="59.4" font-size="6.1" text-anchor="middle" fill="#222" stroke="#222" stroke-width="0.18"><tspan font-style="italic">P</tspan> = .003</text>
<line x1="170.8" y1="63.35" x2="188.4" y2="63.35" stroke="#1a1a1a" stroke-width="1.2"/>
<text x="209.56" y="59.4" font-size="6.1" text-anchor="middle" fill="#222" stroke="#222" stroke-width="0.18"><tspan font-style="italic">P</tspan> = .25</text>
<line x1="200.46" y1="63.35" x2="218.06" y2="63.35" stroke="#1a1a1a" stroke-width="1.2"/>
<text x="239.21" y="59.4" font-size="6.1" text-anchor="middle" fill="#222" stroke="#222" stroke-width="0.18"><tspan font-style="italic">P</tspan> < .001</text>
<line x1="230.11" y1="63.35" x2="247.71" y2="63.35" stroke="#1a1a1a" stroke-width="1.2"/>
<rect x="43.5" y="47.5" width="213.5" height="181" fill="none" stroke="#353535" stroke-width="1.1"/>
<line x1="40.9" y1="220.5" x2="43.5" y2="220.5" stroke="#353535" stroke-width="1.1"/>
<text x="37.6" y="222.7" font-size="6.1" text-anchor="end" fill="#222" stroke="#222" stroke-width="0.15">0</text>
<line x1="40.9" y1="182.62" x2="43.5" y2="182.62" stroke="#353535" stroke-width="1.1"/>
<text x="37.6" y="184.82" font-size="6.1" text-anchor="end" fill="#222" stroke="#222" stroke-width="0.15">25</text>
<line x1="40.9" y1="144.75" x2="43.5" y2="144.75" stroke="#353535" stroke-width="1.1"/>
<text x="37.6" y="146.95" font-size="6.1" text-anchor="end" fill="#222" stroke="#222" stroke-width="0.15">50</text>
<line x1="40.9" y1="106.88" x2="43.5" y2="106.88" stroke="#353535" stroke-width="1.1"/>
<text x="37.6" y="109.08" font-size="6.1" text-anchor="end" fill="#222" stroke="#222" stroke-width="0.15">75</text>
<line x1="40.9" y1="69" x2="43.5" y2="69" stroke="#353535" stroke-width="1.1"/>
<text x="37.6" y="71.2" font-size="6.1" text-anchor="end" fill="#222" stroke="#222" stroke-width="0.15">100</text>
<line x1="61.29" y1="228.5" x2="61.29" y2="231.6" stroke="#353535" stroke-width="1.1"/>
<text transform="translate(61.19,236.9) rotate(-45)" font-size="6.3" text-anchor="end" fill="#222" stroke="#222" stroke-width="0.15">Total</text>
<line x1="90.94" y1="228.5" x2="90.94" y2="231.6" stroke="#353535" stroke-width="1.1"/>
<text transform="translate(90.84,236.9) rotate(-45)" font-size="6.3" text-anchor="end" fill="#222" stroke="#222" stroke-width="0.15">CAR+</text>
<line x1="120.6" y1="228.5" x2="120.6" y2="231.6" stroke="#353535" stroke-width="1.1"/>
<text transform="translate(120.5,236.9) rotate(-45)" font-size="6.3" text-anchor="end" fill="#222" stroke="#222" stroke-width="0.15">CAR+ CD8+</text>
<line x1="150.25" y1="228.5" x2="150.25" y2="231.6" stroke="#353535" stroke-width="1.1"/>
<text transform="translate(150.15,236.9) rotate(-45)" font-size="6.3" text-anchor="end" fill="#222" stroke="#222" stroke-width="0.15">CAR+ CD4+</text>
<line x1="179.9" y1="228.5" x2="179.9" y2="231.6" stroke="#353535" stroke-width="1.1"/>
<text transform="translate(179.8,236.9) rotate(-45)" font-size="6.3" text-anchor="end" fill="#222" stroke="#222" stroke-width="0.15">CAR−</text>
<line x1="209.56" y1="228.5" x2="209.56" y2="231.6" stroke="#353535" stroke-width="1.1"/>
<text transform="translate(209.46,236.9) rotate(-45)" font-size="6.3" text-anchor="end" fill="#222" stroke="#222" stroke-width="0.15">CAR− CD8+</text>
<line x1="239.21" y1="228.5" x2="239.21" y2="231.6" stroke="#353535" stroke-width="1.1"/>
<text transform="translate(239.11,236.9) rotate(-45)" font-size="6.3" text-anchor="end" fill="#222" stroke="#222" stroke-width="0.15">CAR− CD4+</text>
<text transform="translate(150.25,272.7) scale(0.73,1)" font-size="7.6" text-anchor="middle" fill="#1a1a1a" stroke="#1a1a1a" stroke-width="0.3">T cells type</text>
<text transform="translate(21.2,136.2) rotate(-90) scale(0.73,1)" font-size="7.6" text-anchor="middle" fill="#1a1a1a" stroke="#1a1a1a" stroke-width="0.3">Percent expression</text>
<text x="406.85" y="25.8" font-size="8.1" text-anchor="middle" fill="#1a1a1a" stroke="#1a1a1a" stroke-width="0.15">ICOS</text>
<text x="336.45" y="40.7" font-size="5.9" fill="#222" stroke="#222" stroke-width="0.15">Cohort</text>
<line x1="367.95" y1="33.8" x2="367.95" y2="43.8" stroke="#4f88bf" stroke-width="0.8"/>
<rect x="363.75" y="36.1" width="8.4" height="4.4" fill="#aed6f5" stroke="#9cc2e2" stroke-width="0.4"/>
<line x1="363.75" y1="38.3" x2="372.15" y2="38.3" stroke="#4f88bf" stroke-width="0.8"/>
<circle cx="367.95" cy="38.2" r="0.85" fill="#3a70a8"/>
<line x1="421.05" y1="33.8" x2="421.05" y2="43.8" stroke="#5a9a4c" stroke-width="0.8"/>
<rect x="416.85" y="36.1" width="8.4" height="4.4" fill="#aad893" stroke="#a6c498" stroke-width="0.4"/>
<line x1="416.85" y1="38.3" x2="425.25" y2="38.3" stroke="#5a9a4c" stroke-width="0.8"/>
<circle cx="421.05" cy="38.2" r="0.85" fill="#3a6e38"/>
<text x="374.65" y="40.7" font-size="5.9" fill="#222" stroke="#222" stroke-width="0.15">CAR EBV-CTL</text>
<text x="428.45" y="40.7" font-size="5.9" fill="#222" stroke="#222" stroke-width="0.15">Autologous CAR T</text>
<line x1="312.47" y1="100.2" x2="312.47" y2="135.9" stroke="#7ca8d2" stroke-width="0.8"/>
<line x1="312.47" y1="188.1" x2="312.47" y2="204.6" stroke="#7ca8d2" stroke-width="0.8"/>
<rect x="307.67" y="135.9" width="9.6" height="52.2" fill="#aed6f5" stroke="#9cc2e2" stroke-width="0.5"/>
<line x1="307.67" y1="158.2" x2="317.27" y2="158.2" stroke="#4f88bf" stroke-width="1"/>
<circle cx="312.7" cy="119.15" r="0.85" fill="#3a70a8"/>
<circle cx="312.43" cy="154.68" r="0.85" fill="#3a70a8"/>
<circle cx="311.82" cy="197.26" r="0.85" fill="#3a70a8"/>
<circle cx="313.26" cy="181.97" r="0.85" fill="#3a70a8"/>
<circle cx="312.01" cy="135.65" r="0.85" fill="#3a70a8"/>
<circle cx="311.84" cy="156.48" r="0.85" fill="#3a70a8"/>
<circle cx="311.75" cy="192.47" r="0.85" fill="#3a70a8"/>
<circle cx="312.72" cy="197.63" r="0.85" fill="#3a70a8"/>
<circle cx="313.14" cy="175.81" r="0.85" fill="#3a70a8"/>
<circle cx="312.98" cy="145.13" r="0.85" fill="#3a70a8"/>
<circle cx="312.3" cy="138.42" r="0.85" fill="#3a70a8"/>
<circle cx="312.05" cy="192.29" r="0.85" fill="#3a70a8"/>
<circle cx="311.6" cy="187.27" r="0.85" fill="#3a70a8"/>
<circle cx="312.74" cy="170.55" r="0.85" fill="#3a70a8"/>
<circle cx="312.59" cy="135.99" r="0.85" fill="#3a70a8"/>
<circle cx="312.21" cy="105.53" r="0.85" fill="#3a70a8"/>
<circle cx="312.74" cy="158.46" r="0.85" fill="#3a70a8"/>
<circle cx="312.37" cy="182.65" r="0.85" fill="#3a70a8"/>
<circle cx="313.26" cy="108.31" r="0.85" fill="#3a70a8"/>
<circle cx="312.9" cy="137.06" r="0.85" fill="#3a70a8"/>
<circle cx="312.02" cy="112.87" r="0.85" fill="#3a70a8"/>
<circle cx="313.2" cy="112.95" r="0.85" fill="#3a70a8"/>
<circle cx="311.65" cy="166.36" r="0.85" fill="#3a70a8"/>
<circle cx="312.53" cy="146.56" r="0.85" fill="#3a70a8"/>
<circle cx="312.31" cy="100.2" r="0.85" fill="#3a70a8"/>
<circle cx="312" cy="204.6" r="0.85" fill="#3a70a8"/>
<line x1="323.47" y1="71.2" x2="323.47" y2="95.9" stroke="#6fa266" stroke-width="0.8"/>
<line x1="323.47" y1="140.8" x2="323.47" y2="195.9" stroke="#6fa266" stroke-width="0.8"/>
<rect x="318.67" y="95.9" width="9.6" height="44.9" fill="#aad893" stroke="#a6c498" stroke-width="0.5"/>
<line x1="318.67" y1="116.2" x2="328.27" y2="116.2" stroke="#5a9a4c" stroke-width="1"/>
<circle cx="323.92" cy="90.44" r="0.85" fill="#3a6e38"/>
<circle cx="323.16" cy="84.81" r="0.85" fill="#3a6e38"/>
<circle cx="324.16" cy="148.64" r="0.85" fill="#3a6e38"/>
<circle cx="323.17" cy="86.22" r="0.85" fill="#3a6e38"/>
<circle cx="323.01" cy="124.71" r="0.85" fill="#3a6e38"/>
<circle cx="324.21" cy="150.42" r="0.85" fill="#3a6e38"/>
<circle cx="323.71" cy="109.38" r="0.85" fill="#3a6e38"/>
<circle cx="323.82" cy="93.17" r="0.85" fill="#3a6e38"/>
<circle cx="323.77" cy="180.22" r="0.85" fill="#3a6e38"/>
<circle cx="324.34" cy="92.06" r="0.85" fill="#3a6e38"/>
<circle cx="323.42" cy="116.79" r="0.85" fill="#3a6e38"/>
<circle cx="324.09" cy="116.22" r="0.85" fill="#3a6e38"/>
<circle cx="323.83" cy="100.63" r="0.85" fill="#3a6e38"/>
<circle cx="324.12" cy="97.64" r="0.85" fill="#3a6e38"/>
<circle cx="323.36" cy="129.56" r="0.85" fill="#3a6e38"/>
<circle cx="323.88" cy="133.86" r="0.85" fill="#3a6e38"/>
<circle cx="323.6" cy="107.84" r="0.85" fill="#3a6e38"/>
<circle cx="323.13" cy="115.48" r="0.85" fill="#3a6e38"/>
<circle cx="322.96" cy="169.63" r="0.85" fill="#3a6e38"/>
<circle cx="323.7" cy="124.73" r="0.85" fill="#3a6e38"/>
<circle cx="322.72" cy="152.76" r="0.85" fill="#3a6e38"/>
<circle cx="324.21" cy="141.64" r="0.85" fill="#3a6e38"/>
<circle cx="322.84" cy="106.5" r="0.85" fill="#3a6e38"/>
<circle cx="322.62" cy="138.32" r="0.85" fill="#3a6e38"/>
<circle cx="322.77" cy="71.2" r="0.85" fill="#3a6e38"/>
<circle cx="324.25" cy="195.9" r="0.85" fill="#3a6e38"/>
<line x1="342.1" y1="77.9" x2="342.1" y2="116.8" stroke="#7ca8d2" stroke-width="0.8"/>
<line x1="342.1" y1="162.6" x2="342.1" y2="177.6" stroke="#7ca8d2" stroke-width="0.8"/>
<rect x="337.3" y="116.8" width="9.6" height="45.8" fill="#aed6f5" stroke="#9cc2e2" stroke-width="0.5"/>
<line x1="337.3" y1="127.8" x2="346.9" y2="127.8" stroke="#4f88bf" stroke-width="1"/>
<circle cx="341.82" cy="123.3" r="0.85" fill="#3a70a8"/>
<circle cx="342.47" cy="79.52" r="0.85" fill="#3a70a8"/>
<circle cx="342.17" cy="145.83" r="0.85" fill="#3a70a8"/>
<circle cx="341.59" cy="150.54" r="0.85" fill="#3a70a8"/>
<circle cx="342.75" cy="100.87" r="0.85" fill="#3a70a8"/>
<circle cx="341.36" cy="154.24" r="0.85" fill="#3a70a8"/>
<circle cx="342.68" cy="175.97" r="0.85" fill="#3a70a8"/>
<circle cx="341.51" cy="111.66" r="0.85" fill="#3a70a8"/>
<circle cx="341.2" cy="176.76" r="0.85" fill="#3a70a8"/>
<circle cx="341.56" cy="85.9" r="0.85" fill="#3a70a8"/>
<circle cx="342.57" cy="79.24" r="0.85" fill="#3a70a8"/>
<circle cx="342.96" cy="174.78" r="0.85" fill="#3a70a8"/>
<circle cx="341.21" cy="154.59" r="0.85" fill="#3a70a8"/>
<circle cx="342.08" cy="129.96" r="0.85" fill="#3a70a8"/>
<circle cx="342.08" cy="81.71" r="0.85" fill="#3a70a8"/>
<circle cx="342.63" cy="126.19" r="0.85" fill="#3a70a8"/>
<circle cx="341.53" cy="136.21" r="0.85" fill="#3a70a8"/>
<circle cx="342.09" cy="87.89" r="0.85" fill="#3a70a8"/>
<circle cx="341.82" cy="149.58" r="0.85" fill="#3a70a8"/>
<circle cx="342.7" cy="131.49" r="0.85" fill="#3a70a8"/>
<circle cx="341.67" cy="170.16" r="0.85" fill="#3a70a8"/>
<circle cx="342.9" cy="171.87" r="0.85" fill="#3a70a8"/>
<circle cx="341.71" cy="93.96" r="0.85" fill="#3a70a8"/>
<circle cx="341.59" cy="152.2" r="0.85" fill="#3a70a8"/>
<circle cx="342.46" cy="77.9" r="0.85" fill="#3a70a8"/>
<circle cx="342.1" cy="177.6" r="0.85" fill="#3a70a8"/>
<line x1="353.1" y1="69.8" x2="353.1" y2="82.8" stroke="#6fa266" stroke-width="0.8"/>
<line x1="353.1" y1="116.2" x2="353.1" y2="159.7" stroke="#6fa266" stroke-width="0.8"/>
<rect x="348.3" y="82.8" width="9.6" height="33.4" fill="#aad893" stroke="#a6c498" stroke-width="0.5"/>
<line x1="348.3" y1="97.9" x2="357.9" y2="97.9" stroke="#5a9a4c" stroke-width="1"/>
<circle cx="353.14" cy="78.07" r="0.85" fill="#3a6e38"/>
<circle cx="352.49" cy="80.04" r="0.85" fill="#3a6e38"/>
<circle cx="352.79" cy="109.08" r="0.85" fill="#3a6e38"/>
<circle cx="352.54" cy="94.68" r="0.85" fill="#3a6e38"/>
<circle cx="353.96" cy="95.98" r="0.85" fill="#3a6e38"/>
<circle cx="353.51" cy="119.95" r="0.85" fill="#3a6e38"/>
<circle cx="352.38" cy="117.3" r="0.85" fill="#3a6e38"/>
<circle cx="353.93" cy="73.22" r="0.85" fill="#3a6e38"/>
<circle cx="352.38" cy="138" r="0.85" fill="#3a6e38"/>
<circle cx="352.89" cy="112.32" r="0.85" fill="#3a6e38"/>
<circle cx="353.97" cy="98.19" r="0.85" fill="#3a6e38"/>
<circle cx="353.63" cy="108" r="0.85" fill="#3a6e38"/>
<circle cx="353.52" cy="104.39" r="0.85" fill="#3a6e38"/>
<circle cx="352.98" cy="93.71" r="0.85" fill="#3a6e38"/>
<circle cx="352.55" cy="80.76" r="0.85" fill="#3a6e38"/>
<circle cx="353.35" cy="107.58" r="0.85" fill="#3a6e38"/>
<circle cx="352.39" cy="75.5" r="0.85" fill="#3a6e38"/>
<circle cx="352.57" cy="102.14" r="0.85" fill="#3a6e38"/>
<circle cx="352.9" cy="75.81" r="0.85" fill="#3a6e38"/>
<circle cx="352.26" cy="126.55" r="0.85" fill="#3a6e38"/>
<circle cx="352.92" cy="73.72" r="0.85" fill="#3a6e38"/>
<circle cx="353.62" cy="110.98" r="0.85" fill="#3a6e38"/>
<circle cx="353.45" cy="71.83" r="0.85" fill="#3a6e38"/>
<circle cx="353.1" cy="93.71" r="0.85" fill="#3a6e38"/>
<circle cx="353.34" cy="69.8" r="0.85" fill="#3a6e38"/>
<circle cx="353.03" cy="159.7" r="0.85" fill="#3a6e38"/>
<circle cx="352.46" cy="171.2" r="0.85" fill="#3a6e38"/>
<circle cx="353.29" cy="182.3" r="0.85" fill="#3a6e38"/>
<line x1="371.73" y1="76.2" x2="371.73" y2="101.7" stroke="#7ca8d2" stroke-width="0.8"/>
<line x1="371.73" y1="123.4" x2="371.73" y2="130.1" stroke="#7ca8d2" stroke-width="0.8"/>
<rect x="366.93" y="101.7" width="9.6" height="21.7" fill="#aed6f5" stroke="#9cc2e2" stroke-width="0.5"/>
<line x1="366.93" y1="113.9" x2="376.53" y2="113.9" stroke="#4f88bf" stroke-width="1"/>
<circle cx="372.32" cy="117.78" r="0.85" fill="#3a70a8"/>
<circle cx="371.76" cy="126.28" r="0.85" fill="#3a70a8"/>
<circle cx="371.56" cy="117.96" r="0.85" fill="#3a70a8"/>
<circle cx="372.53" cy="106.66" r="0.85" fill="#3a70a8"/>
<circle cx="371.2" cy="120.8" r="0.85" fill="#3a70a8"/>
<circle cx="372.06" cy="116.89" r="0.85" fill="#3a70a8"/>
<circle cx="371.53" cy="127.95" r="0.85" fill="#3a70a8"/>
<circle cx="372.2" cy="111.55" r="0.85" fill="#3a70a8"/>
<circle cx="371.05" cy="115.33" r="0.85" fill="#3a70a8"/>
<circle cx="372.6" cy="86.9" r="0.85" fill="#3a70a8"/>
<circle cx="371.46" cy="128.18" r="0.85" fill="#3a70a8"/>
<circle cx="370.93" cy="107.13" r="0.85" fill="#3a70a8"/>
<circle cx="371.32" cy="111.58" r="0.85" fill="#3a70a8"/>
<circle cx="371.54" cy="110.58" r="0.85" fill="#3a70a8"/>
<circle cx="370.85" cy="121.89" r="0.85" fill="#3a70a8"/>
<circle cx="371.58" cy="92.89" r="0.85" fill="#3a70a8"/>
<circle cx="371.58" cy="110.13" r="0.85" fill="#3a70a8"/>
<circle cx="372.08" cy="122.85" r="0.85" fill="#3a70a8"/>
<circle cx="371.46" cy="90.06" r="0.85" fill="#3a70a8"/>
<circle cx="371.3" cy="96.14" r="0.85" fill="#3a70a8"/>
<circle cx="371.23" cy="126.88" r="0.85" fill="#3a70a8"/>
<circle cx="372.16" cy="90.85" r="0.85" fill="#3a70a8"/>
<circle cx="372.52" cy="117.27" r="0.85" fill="#3a70a8"/>
<circle cx="371.77" cy="115.57" r="0.85" fill="#3a70a8"/>
<circle cx="371.22" cy="76.2" r="0.85" fill="#3a70a8"/>
<circle cx="372.27" cy="130.1" r="0.85" fill="#3a70a8"/>
<circle cx="371.53" cy="166.9" r="0.85" fill="#3a70a8"/>
<circle cx="371.21" cy="174.1" r="0.85" fill="#3a70a8"/>
<line x1="382.73" y1="69.8" x2="382.73" y2="88.6" stroke="#6fa266" stroke-width="0.8"/>
<line x1="382.73" y1="164" x2="382.73" y2="210.4" stroke="#6fa266" stroke-width="0.8"/>
<rect x="377.93" y="88.6" width="9.6" height="75.4" fill="#aad893" stroke="#a6c498" stroke-width="0.5"/>
<line x1="377.93" y1="134.1" x2="387.53" y2="134.1" stroke="#5a9a4c" stroke-width="1"/>
<circle cx="382.01" cy="84.4" r="0.85" fill="#3a6e38"/>
<circle cx="382.08" cy="193.43" r="0.85" fill="#3a6e38"/>
<circle cx="382.25" cy="130.98" r="0.85" fill="#3a6e38"/>
<circle cx="383.22" cy="161.28" r="0.85" fill="#3a6e38"/>
<circle cx="382.45" cy="136.77" r="0.85" fill="#3a6e38"/>
<circle cx="382.1" cy="201.87" r="0.85" fill="#3a6e38"/>
<circle cx="383.45" cy="110.79" r="0.85" fill="#3a6e38"/>
<circle cx="383.25" cy="98.04" r="0.85" fill="#3a6e38"/>
<circle cx="382.13" cy="180.46" r="0.85" fill="#3a6e38"/>
<circle cx="383.43" cy="176.41" r="0.85" fill="#3a6e38"/>
<circle cx="382.92" cy="107.72" r="0.85" fill="#3a6e38"/>
<circle cx="383.23" cy="102.62" r="0.85" fill="#3a6e38"/>
<circle cx="383.03" cy="83.37" r="0.85" fill="#3a6e38"/>
<circle cx="383.43" cy="107.07" r="0.85" fill="#3a6e38"/>
<circle cx="383.24" cy="124.76" r="0.85" fill="#3a6e38"/>
<circle cx="383.33" cy="136.65" r="0.85" fill="#3a6e38"/>
<circle cx="382.18" cy="115.93" r="0.85" fill="#3a6e38"/>
<circle cx="383.07" cy="203.65" r="0.85" fill="#3a6e38"/>
<circle cx="382.78" cy="85.36" r="0.85" fill="#3a6e38"/>
<circle cx="383.16" cy="200.38" r="0.85" fill="#3a6e38"/>
<circle cx="382.61" cy="85.43" r="0.85" fill="#3a6e38"/>
<circle cx="383.41" cy="89.73" r="0.85" fill="#3a6e38"/>
<circle cx="382.82" cy="87.69" r="0.85" fill="#3a6e38"/>
<circle cx="382.3" cy="107.45" r="0.85" fill="#3a6e38"/>
<circle cx="382.25" cy="69.8" r="0.85" fill="#3a6e38"/>
<circle cx="382.08" cy="210.4" r="0.85" fill="#3a6e38"/>
<line x1="401.35" y1="84.3" x2="401.35" y2="120.5" stroke="#7ca8d2" stroke-width="0.8"/>
<line x1="401.35" y1="177.9" x2="401.35" y2="188.1" stroke="#7ca8d2" stroke-width="0.8"/>
<rect x="396.55" y="120.5" width="9.6" height="57.4" fill="#aed6f5" stroke="#9cc2e2" stroke-width="0.5"/>
<line x1="396.55" y1="153" x2="406.15" y2="153" stroke="#4f88bf" stroke-width="1"/>
<circle cx="401.36" cy="123.86" r="0.85" fill="#3a70a8"/>
<circle cx="402.2" cy="128.79" r="0.85" fill="#3a70a8"/>
<circle cx="401.63" cy="149.1" r="0.85" fill="#3a70a8"/>
<circle cx="401.88" cy="170.03" r="0.85" fill="#3a70a8"/>
<circle cx="401.05" cy="114.74" r="0.85" fill="#3a70a8"/>
<circle cx="401.02" cy="152.79" r="0.85" fill="#3a70a8"/>
<circle cx="400.99" cy="168.75" r="0.85" fill="#3a70a8"/>
<circle cx="401.51" cy="144.54" r="0.85" fill="#3a70a8"/>
<circle cx="401.59" cy="178.67" r="0.85" fill="#3a70a8"/>
<circle cx="401.86" cy="157.01" r="0.85" fill="#3a70a8"/>
<circle cx="400.52" cy="106.37" r="0.85" fill="#3a70a8"/>
<circle cx="401.75" cy="173.97" r="0.85" fill="#3a70a8"/>
<circle cx="402.04" cy="176.85" r="0.85" fill="#3a70a8"/>
<circle cx="401.43" cy="148.32" r="0.85" fill="#3a70a8"/>
<circle cx="400.54" cy="178.25" r="0.85" fill="#3a70a8"/>
<circle cx="400.99" cy="156.39" r="0.85" fill="#3a70a8"/>
<circle cx="400.46" cy="169.96" r="0.85" fill="#3a70a8"/>
<circle cx="400.79" cy="147.74" r="0.85" fill="#3a70a8"/>
<circle cx="402.11" cy="164.73" r="0.85" fill="#3a70a8"/>
<circle cx="401.55" cy="100.05" r="0.85" fill="#3a70a8"/>
<circle cx="401.63" cy="152.3" r="0.85" fill="#3a70a8"/>
<circle cx="401.87" cy="180.89" r="0.85" fill="#3a70a8"/>
<circle cx="402.09" cy="182.02" r="0.85" fill="#3a70a8"/>
<circle cx="401.55" cy="136.1" r="0.85" fill="#3a70a8"/>
<circle cx="401.56" cy="84.3" r="0.85" fill="#3a70a8"/>
<circle cx="401.58" cy="188.1" r="0.85" fill="#3a70a8"/>
<line x1="412.35" y1="69.8" x2="412.35" y2="74.1" stroke="#6fa266" stroke-width="0.8"/>
<line x1="412.35" y1="105.4" x2="412.35" y2="142.8" stroke="#6fa266" stroke-width="0.8"/>
<rect x="407.55" y="74.1" width="9.6" height="31.3" fill="#aad893" stroke="#a6c498" stroke-width="0.5"/>
<line x1="407.55" y1="78.5" x2="417.15" y2="78.5" stroke="#5a9a4c" stroke-width="1"/>
<circle cx="411.61" cy="92.76" r="0.85" fill="#3a6e38"/>
<circle cx="413.02" cy="80.75" r="0.85" fill="#3a6e38"/>
<circle cx="411.68" cy="88.43" r="0.85" fill="#3a6e38"/>
<circle cx="411.48" cy="77.27" r="0.85" fill="#3a6e38"/>
<circle cx="412.74" cy="69.96" r="0.85" fill="#3a6e38"/>
<circle cx="411.89" cy="102.71" r="0.85" fill="#3a6e38"/>
<circle cx="412.77" cy="85.65" r="0.85" fill="#3a6e38"/>
<circle cx="411.79" cy="134.82" r="0.85" fill="#3a6e38"/>
<circle cx="411.54" cy="82.18" r="0.85" fill="#3a6e38"/>
<circle cx="412.84" cy="87.3" r="0.85" fill="#3a6e38"/>
<circle cx="412.73" cy="87.58" r="0.85" fill="#3a6e38"/>
<circle cx="412.99" cy="103.33" r="0.85" fill="#3a6e38"/>
<circle cx="412.76" cy="72.24" r="0.85" fill="#3a6e38"/>
<circle cx="411.6" cy="70.31" r="0.85" fill="#3a6e38"/>
<circle cx="412.58" cy="126.92" r="0.85" fill="#3a6e38"/>
<circle cx="412.73" cy="122.1" r="0.85" fill="#3a6e38"/>
<circle cx="412.28" cy="71.46" r="0.85" fill="#3a6e38"/>
<circle cx="413.13" cy="103.45" r="0.85" fill="#3a6e38"/>
<circle cx="411.91" cy="123.18" r="0.85" fill="#3a6e38"/>
<circle cx="413.19" cy="77.29" r="0.85" fill="#3a6e38"/>
<circle cx="412.74" cy="80.74" r="0.85" fill="#3a6e38"/>
<circle cx="411.47" cy="69.87" r="0.85" fill="#3a6e38"/>
<circle cx="411.48" cy="72.74" r="0.85" fill="#3a6e38"/>
<circle cx="412.62" cy="73.96" r="0.85" fill="#3a6e38"/>
<circle cx="412.92" cy="69.8" r="0.85" fill="#3a6e38"/>
<circle cx="411.59" cy="142.8" r="0.85" fill="#3a6e38"/>
<circle cx="412.01" cy="166.9" r="0.85" fill="#3a6e38"/>
<circle cx="412.76" cy="175.6" r="0.85" fill="#3a6e38"/>
<line x1="430.97" y1="102.6" x2="430.97" y2="137.9" stroke="#7ca8d2" stroke-width="0.8"/>
<line x1="430.97" y1="190.1" x2="430.97" y2="206" stroke="#7ca8d2" stroke-width="0.8"/>
<rect x="426.17" y="137.9" width="9.6" height="52.2" fill="#aed6f5" stroke="#9cc2e2" stroke-width="0.5"/>
<line x1="426.17" y1="159.7" x2="435.77" y2="159.7" stroke="#4f88bf" stroke-width="1"/>
<circle cx="431.1" cy="132.99" r="0.85" fill="#3a70a8"/>
<circle cx="430.57" cy="141.02" r="0.85" fill="#3a70a8"/>
<circle cx="431.61" cy="167.91" r="0.85" fill="#3a70a8"/>
<circle cx="431.53" cy="173.23" r="0.85" fill="#3a70a8"/>
<circle cx="431.31" cy="130.75" r="0.85" fill="#3a70a8"/>
<circle cx="431.72" cy="171.56" r="0.85" fill="#3a70a8"/>
<circle cx="430.7" cy="159.72" r="0.85" fill="#3a70a8"/>
<circle cx="430.23" cy="178.94" r="0.85" fill="#3a70a8"/>
<circle cx="431.07" cy="202.58" r="0.85" fill="#3a70a8"/>
<circle cx="431.51" cy="153.16" r="0.85" fill="#3a70a8"/>
<circle cx="430.44" cy="136.98" r="0.85" fill="#3a70a8"/>
<circle cx="431.43" cy="181.09" r="0.85" fill="#3a70a8"/>
<circle cx="431.75" cy="169.52" r="0.85" fill="#3a70a8"/>
<circle cx="430.5" cy="203.32" r="0.85" fill="#3a70a8"/>
<circle cx="431.17" cy="154.01" r="0.85" fill="#3a70a8"/>
<circle cx="431.29" cy="184.26" r="0.85" fill="#3a70a8"/>
<circle cx="430.91" cy="173.65" r="0.85" fill="#3a70a8"/>
<circle cx="430.45" cy="184.68" r="0.85" fill="#3a70a8"/>
<circle cx="430.53" cy="194.6" r="0.85" fill="#3a70a8"/>
<circle cx="431.43" cy="111.89" r="0.85" fill="#3a70a8"/>
<circle cx="431.5" cy="168.52" r="0.85" fill="#3a70a8"/>
<circle cx="430.9" cy="204.21" r="0.85" fill="#3a70a8"/>
<circle cx="430.23" cy="132.01" r="0.85" fill="#3a70a8"/>
<circle cx="431.53" cy="203.89" r="0.85" fill="#3a70a8"/>
<circle cx="431.46" cy="102.6" r="0.85" fill="#3a70a8"/>
<circle cx="430.49" cy="206" r="0.85" fill="#3a70a8"/>
<line x1="441.97" y1="72.1" x2="441.97" y2="99.4" stroke="#6fa266" stroke-width="0.8"/>
<line x1="441.97" y1="143.1" x2="441.97" y2="198.8" stroke="#6fa266" stroke-width="0.8"/>
<rect x="437.17" y="99.4" width="9.6" height="43.7" fill="#aad893" stroke="#a6c498" stroke-width="0.5"/>
<line x1="437.17" y1="118.2" x2="446.77" y2="118.2" stroke="#5a9a4c" stroke-width="1"/>
<circle cx="442.71" cy="138.6" r="0.85" fill="#3a6e38"/>
<circle cx="441.19" cy="172.17" r="0.85" fill="#3a6e38"/>
<circle cx="442.15" cy="125.15" r="0.85" fill="#3a6e38"/>
<circle cx="441.79" cy="77.35" r="0.85" fill="#3a6e38"/>
<circle cx="441.29" cy="91.24" r="0.85" fill="#3a6e38"/>
<circle cx="442.8" cy="124.07" r="0.85" fill="#3a6e38"/>
<circle cx="441.54" cy="122" r="0.85" fill="#3a6e38"/>
<circle cx="442.09" cy="73.32" r="0.85" fill="#3a6e38"/>
<circle cx="442.23" cy="163.93" r="0.85" fill="#3a6e38"/>
<circle cx="442.8" cy="89.37" r="0.85" fill="#3a6e38"/>
<circle cx="442.28" cy="151.8" r="0.85" fill="#3a6e38"/>
<circle cx="441.78" cy="114.47" r="0.85" fill="#3a6e38"/>
<circle cx="441.88" cy="100.3" r="0.85" fill="#3a6e38"/>
<circle cx="441.36" cy="99.14" r="0.85" fill="#3a6e38"/>
<circle cx="442.81" cy="170.19" r="0.85" fill="#3a6e38"/>
<circle cx="442.86" cy="110.83" r="0.85" fill="#3a6e38"/>
<circle cx="441.47" cy="118.01" r="0.85" fill="#3a6e38"/>
<circle cx="441.14" cy="185.84" r="0.85" fill="#3a6e38"/>
<circle cx="441.54" cy="196.77" r="0.85" fill="#3a6e38"/>
<circle cx="441.71" cy="101.05" r="0.85" fill="#3a6e38"/>
<circle cx="442.7" cy="77.03" r="0.85" fill="#3a6e38"/>
<circle cx="442.7" cy="73.49" r="0.85" fill="#3a6e38"/>
<circle cx="442.58" cy="137.45" r="0.85" fill="#3a6e38"/>
<circle cx="441.16" cy="140.79" r="0.85" fill="#3a6e38"/>
<circle cx="442.49" cy="72.1" r="0.85" fill="#3a6e38"/>
<circle cx="442.35" cy="198.8" r="0.85" fill="#3a6e38"/>
<line x1="460.6" y1="98.8" x2="460.6" y2="133" stroke="#7ca8d2" stroke-width="0.8"/>
<line x1="460.6" y1="166.3" x2="460.6" y2="203.7" stroke="#7ca8d2" stroke-width="0.8"/>
<rect x="455.8" y="133" width="9.6" height="33.3" fill="#aed6f5" stroke="#9cc2e2" stroke-width="0.5"/>
<line x1="455.8" y1="151" x2="465.4" y2="151" stroke="#4f88bf" stroke-width="1"/>
<circle cx="459.98" cy="165.81" r="0.85" fill="#3a70a8"/>
<circle cx="460.19" cy="103.75" r="0.85" fill="#3a70a8"/>
<circle cx="461.21" cy="164.28" r="0.85" fill="#3a70a8"/>
<circle cx="460.3" cy="142.95" r="0.85" fill="#3a70a8"/>
<circle cx="460" cy="158.24" r="0.85" fill="#3a70a8"/>
<circle cx="460.58" cy="109.88" r="0.85" fill="#3a70a8"/>
<circle cx="460.27" cy="137.13" r="0.85" fill="#3a70a8"/>
<circle cx="461.33" cy="138.61" r="0.85" fill="#3a70a8"/>
<circle cx="459.91" cy="137.77" r="0.85" fill="#3a70a8"/>
<circle cx="461.46" cy="133.42" r="0.85" fill="#3a70a8"/>
<circle cx="459.8" cy="139.5" r="0.85" fill="#3a70a8"/>
<circle cx="461.31" cy="130.53" r="0.85" fill="#3a70a8"/>
<circle cx="460.9" cy="164.1" r="0.85" fill="#3a70a8"/>
<circle cx="460.08" cy="199.54" r="0.85" fill="#3a70a8"/>
<circle cx="460.56" cy="114.1" r="0.85" fill="#3a70a8"/>
<circle cx="460.22" cy="130.56" r="0.85" fill="#3a70a8"/>
<circle cx="460.16" cy="189.8" r="0.85" fill="#3a70a8"/>
<circle cx="460.06" cy="144.31" r="0.85" fill="#3a70a8"/>
<circle cx="460.36" cy="184.16" r="0.85" fill="#3a70a8"/>
<circle cx="461.48" cy="137.75" r="0.85" fill="#3a70a8"/>
<circle cx="461.5" cy="134.89" r="0.85" fill="#3a70a8"/>
<circle cx="461.37" cy="151.43" r="0.85" fill="#3a70a8"/>
<circle cx="459.88" cy="128.58" r="0.85" fill="#3a70a8"/>
<circle cx="460.22" cy="146.71" r="0.85" fill="#3a70a8"/>
<circle cx="461.31" cy="98.8" r="0.85" fill="#3a70a8"/>
<circle cx="459.8" cy="203.7" r="0.85" fill="#3a70a8"/>
<line x1="471.6" y1="74.1" x2="471.6" y2="103.1" stroke="#6fa266" stroke-width="0.8"/>
<line x1="471.6" y1="172.7" x2="471.6" y2="215.3" stroke="#6fa266" stroke-width="0.8"/>
<rect x="466.8" y="103.1" width="9.6" height="69.6" fill="#aad893" stroke="#a6c498" stroke-width="0.5"/>
<line x1="466.8" y1="151" x2="476.4" y2="151" stroke="#5a9a4c" stroke-width="1"/>
<circle cx="471.36" cy="123.53" r="0.85" fill="#3a6e38"/>
<circle cx="470.99" cy="173.38" r="0.85" fill="#3a6e38"/>
<circle cx="471.37" cy="187.22" r="0.85" fill="#3a6e38"/>
<circle cx="471.77" cy="74.16" r="0.85" fill="#3a6e38"/>
<circle cx="470.71" cy="195.13" r="0.85" fill="#3a6e38"/>
<circle cx="471.64" cy="86.72" r="0.85" fill="#3a6e38"/>
<circle cx="471.5" cy="182" r="0.85" fill="#3a6e38"/>
<circle cx="471.63" cy="112.71" r="0.85" fill="#3a6e38"/>
<circle cx="470.92" cy="96.44" r="0.85" fill="#3a6e38"/>
<circle cx="471.99" cy="116.79" r="0.85" fill="#3a6e38"/>
<circle cx="472.17" cy="76.64" r="0.85" fill="#3a6e38"/>
<circle cx="472.26" cy="137.59" r="0.85" fill="#3a6e38"/>
<circle cx="471.28" cy="117.44" r="0.85" fill="#3a6e38"/>
<circle cx="471.98" cy="152.36" r="0.85" fill="#3a6e38"/>
<circle cx="471.39" cy="197.53" r="0.85" fill="#3a6e38"/>
<circle cx="472.05" cy="76.01" r="0.85" fill="#3a6e38"/>
<circle cx="470.81" cy="131.51" r="0.85" fill="#3a6e38"/>
<circle cx="472.27" cy="106.95" r="0.85" fill="#3a6e38"/>
<circle cx="472.42" cy="186.98" r="0.85" fill="#3a6e38"/>
<circle cx="471.59" cy="209.53" r="0.85" fill="#3a6e38"/>
<circle cx="471.62" cy="104.17" r="0.85" fill="#3a6e38"/>
<circle cx="471.65" cy="193" r="0.85" fill="#3a6e38"/>
<circle cx="471.67" cy="184.04" r="0.85" fill="#3a6e38"/>
<circle cx="470.74" cy="98.22" r="0.85" fill="#3a6e38"/>
<circle cx="472.44" cy="74.1" r="0.85" fill="#3a6e38"/>
<circle cx="471.1" cy="215.3" r="0.85" fill="#3a6e38"/>
<line x1="490.22" y1="86.6" x2="490.22" y2="131.2" stroke="#7ca8d2" stroke-width="0.8"/>
<line x1="490.22" y1="196.8" x2="490.22" y2="207.5" stroke="#7ca8d2" stroke-width="0.8"/>
<rect x="485.42" y="131.2" width="9.6" height="65.6" fill="#aed6f5" stroke="#9cc2e2" stroke-width="0.5"/>
<line x1="485.42" y1="175.6" x2="495.02" y2="175.6" stroke="#4f88bf" stroke-width="1"/>
<circle cx="489.42" cy="91.18" r="0.85" fill="#3a70a8"/>
<circle cx="490.26" cy="184.81" r="0.85" fill="#3a70a8"/>
<circle cx="491.05" cy="90.9" r="0.85" fill="#3a70a8"/>
<circle cx="491.01" cy="144" r="0.85" fill="#3a70a8"/>
<circle cx="489.77" cy="113.33" r="0.85" fill="#3a70a8"/>
<circle cx="490.08" cy="165.5" r="0.85" fill="#3a70a8"/>
<circle cx="490.46" cy="137.95" r="0.85" fill="#3a70a8"/>
<circle cx="489.98" cy="204.47" r="0.85" fill="#3a70a8"/>
<circle cx="490.28" cy="92.09" r="0.85" fill="#3a70a8"/>
<circle cx="489.45" cy="164.05" r="0.85" fill="#3a70a8"/>
<circle cx="490.1" cy="139.21" r="0.85" fill="#3a70a8"/>
<circle cx="490.23" cy="140.18" r="0.85" fill="#3a70a8"/>
<circle cx="489.36" cy="187.69" r="0.85" fill="#3a70a8"/>
<circle cx="489.58" cy="112.15" r="0.85" fill="#3a70a8"/>
<circle cx="491.07" cy="141.98" r="0.85" fill="#3a70a8"/>
<circle cx="490.72" cy="206.83" r="0.85" fill="#3a70a8"/>
<circle cx="491.01" cy="158.78" r="0.85" fill="#3a70a8"/>
<circle cx="490.46" cy="202.42" r="0.85" fill="#3a70a8"/>
<circle cx="490.78" cy="192.95" r="0.85" fill="#3a70a8"/>
<circle cx="490.92" cy="153.41" r="0.85" fill="#3a70a8"/>
<circle cx="490.92" cy="153.18" r="0.85" fill="#3a70a8"/>
<circle cx="489.39" cy="195.57" r="0.85" fill="#3a70a8"/>
<circle cx="490.48" cy="206.57" r="0.85" fill="#3a70a8"/>
<circle cx="489.8" cy="205.87" r="0.85" fill="#3a70a8"/>
<circle cx="490.55" cy="86.6" r="0.85" fill="#3a70a8"/>
<circle cx="489.82" cy="207.5" r="0.85" fill="#3a70a8"/>
<line x1="501.22" y1="70.4" x2="501.22" y2="78.5" stroke="#6fa266" stroke-width="0.8"/>
<line x1="501.22" y1="119.9" x2="501.22" y2="180" stroke="#6fa266" stroke-width="0.8"/>
<rect x="496.42" y="78.5" width="9.6" height="41.4" fill="#aad893" stroke="#a6c498" stroke-width="0.5"/>
<line x1="496.42" y1="90.7" x2="506.02" y2="90.7" stroke="#5a9a4c" stroke-width="1"/>
<circle cx="500.84" cy="116.77" r="0.85" fill="#3a6e38"/>
<circle cx="502.1" cy="88.87" r="0.85" fill="#3a6e38"/>
<circle cx="500.86" cy="96.45" r="0.85" fill="#3a6e38"/>
<circle cx="501.71" cy="137.18" r="0.85" fill="#3a6e38"/>
<circle cx="500.61" cy="105.31" r="0.85" fill="#3a6e38"/>
<circle cx="500.45" cy="75.21" r="0.85" fill="#3a6e38"/>
<circle cx="501.89" cy="150.78" r="0.85" fill="#3a6e38"/>
<circle cx="501.12" cy="97.81" r="0.85" fill="#3a6e38"/>
<circle cx="500.44" cy="84.64" r="0.85" fill="#3a6e38"/>
<circle cx="501.02" cy="71.46" r="0.85" fill="#3a6e38"/>
<circle cx="501.12" cy="95.33" r="0.85" fill="#3a6e38"/>
<circle cx="501.65" cy="88.58" r="0.85" fill="#3a6e38"/>
<circle cx="500.52" cy="74.83" r="0.85" fill="#3a6e38"/>
<circle cx="500.73" cy="156.56" r="0.85" fill="#3a6e38"/>
<circle cx="502.05" cy="105.42" r="0.85" fill="#3a6e38"/>
<circle cx="501.65" cy="76.15" r="0.85" fill="#3a6e38"/>
<circle cx="500.6" cy="101.19" r="0.85" fill="#3a6e38"/>
<circle cx="500.93" cy="97.92" r="0.85" fill="#3a6e38"/>
<circle cx="500.96" cy="88.53" r="0.85" fill="#3a6e38"/>
<circle cx="501.54" cy="99.72" r="0.85" fill="#3a6e38"/>
<circle cx="501.43" cy="102.75" r="0.85" fill="#3a6e38"/>
<circle cx="501.85" cy="73.26" r="0.85" fill="#3a6e38"/>
<circle cx="501.8" cy="134.24" r="0.85" fill="#3a6e38"/>
<circle cx="501.26" cy="98.84" r="0.85" fill="#3a6e38"/>
<circle cx="501.65" cy="70.4" r="0.85" fill="#3a6e38"/>
<circle cx="501.66" cy="180" r="0.85" fill="#3a6e38"/>
<circle cx="501.69" cy="194.4" r="0.85" fill="#3a6e38"/>
<text x="317.97" y="56.2" font-size="6.1" text-anchor="middle" fill="#222" stroke="#222" stroke-width="0.18"><tspan font-style="italic">P</tspan> < .001</text>
<line x1="308.87" y1="60.35" x2="326.47" y2="60.35" stroke="#1a1a1a" stroke-width="1.2"/>
<text x="347.6" y="56.2" font-size="6.1" text-anchor="middle" fill="#222" stroke="#222" stroke-width="0.18"><tspan font-style="italic">P</tspan> = .004</text>
<line x1="338.5" y1="60.35" x2="356.1" y2="60.35" stroke="#1a1a1a" stroke-width="1.2"/>
<text x="377.23" y="56.2" font-size="6.1" text-anchor="middle" fill="#222" stroke="#222" stroke-width="0.18"><tspan font-style="italic">P</tspan> = .53</text>
<line x1="368.12" y1="60.35" x2="385.73" y2="60.35" stroke="#1a1a1a" stroke-width="1.2"/>
<text x="406.85" y="56.2" font-size="6.1" text-anchor="middle" fill="#222" stroke="#222" stroke-width="0.18"><tspan font-style="italic">P</tspan> < .001</text>
<line x1="397.75" y1="60.35" x2="415.35" y2="60.35" stroke="#1a1a1a" stroke-width="1.2"/>
<text x="436.47" y="56.2" font-size="6.1" text-anchor="middle" fill="#222" stroke="#222" stroke-width="0.18"><tspan font-style="italic">P</tspan> < .001</text>
<line x1="427.37" y1="60.35" x2="444.97" y2="60.35" stroke="#1a1a1a" stroke-width="1.2"/>
<text x="466.1" y="56.2" font-size="6.1" text-anchor="middle" fill="#222" stroke="#222" stroke-width="0.18"><tspan font-style="italic">P</tspan> = .51</text>
<line x1="457" y1="60.35" x2="474.6" y2="60.35" stroke="#1a1a1a" stroke-width="1.2"/>
<text x="495.72" y="56.2" font-size="6.1" text-anchor="middle" fill="#222" stroke="#222" stroke-width="0.18"><tspan font-style="italic">P</tspan> < .001</text>
<line x1="486.62" y1="60.35" x2="504.22" y2="60.35" stroke="#1a1a1a" stroke-width="1.2"/>
<rect x="300.2" y="47.5" width="213.3" height="181" fill="none" stroke="#353535" stroke-width="1.1"/>
<line x1="297.6" y1="220.5" x2="300.2" y2="220.5" stroke="#353535" stroke-width="1.1"/>
<text x="294.3" y="222.7" font-size="6.1" text-anchor="end" fill="#222" stroke="#222" stroke-width="0.15">0</text>
<line x1="297.6" y1="182.62" x2="300.2" y2="182.62" stroke="#353535" stroke-width="1.1"/>
<text x="294.3" y="184.82" font-size="6.1" text-anchor="end" fill="#222" stroke="#222" stroke-width="0.15">25</text>
<line x1="297.6" y1="144.75" x2="300.2" y2="144.75" stroke="#353535" stroke-width="1.1"/>
<text x="294.3" y="146.95" font-size="6.1" text-anchor="end" fill="#222" stroke="#222" stroke-width="0.15">50</text>
<line x1="297.6" y1="106.88" x2="300.2" y2="106.88" stroke="#353535" stroke-width="1.1"/>
<text x="294.3" y="109.08" font-size="6.1" text-anchor="end" fill="#222" stroke="#222" stroke-width="0.15">75</text>
<line x1="297.6" y1="69" x2="300.2" y2="69" stroke="#353535" stroke-width="1.1"/>
<text x="294.3" y="71.2" font-size="6.1" text-anchor="end" fill="#222" stroke="#222" stroke-width="0.15">100</text>
<line x1="317.97" y1="228.5" x2="317.97" y2="231.6" stroke="#353535" stroke-width="1.1"/>
<text transform="translate(317.87,237.5) rotate(-45)" font-size="6.3" text-anchor="end" fill="#222" stroke="#222" stroke-width="0.15">Total</text>
<line x1="347.6" y1="228.5" x2="347.6" y2="231.6" stroke="#353535" stroke-width="1.1"/>
<text transform="translate(347.5,237.5) rotate(-45)" font-size="6.3" text-anchor="end" fill="#222" stroke="#222" stroke-width="0.15">CAR+</text>
<line x1="377.23" y1="228.5" x2="377.23" y2="231.6" stroke="#353535" stroke-width="1.1"/>
<text transform="translate(377.12,237.5) rotate(-45)" font-size="6.3" text-anchor="end" fill="#222" stroke="#222" stroke-width="0.15">CAR+ CD8+</text>
<line x1="406.85" y1="228.5" x2="406.85" y2="231.6" stroke="#353535" stroke-width="1.1"/>
<text transform="translate(406.75,237.5) rotate(-45)" font-size="6.3" text-anchor="end" fill="#222" stroke="#222" stroke-width="0.15">CAR+ CD4+</text>
<line x1="436.47" y1="228.5" x2="436.47" y2="231.6" stroke="#353535" stroke-width="1.1"/>
<text transform="translate(436.37,237.5) rotate(-45)" font-size="6.3" text-anchor="end" fill="#222" stroke="#222" stroke-width="0.15">CAR−</text>
<line x1="466.1" y1="228.5" x2="466.1" y2="231.6" stroke="#353535" stroke-width="1.1"/>
<text transform="translate(466,237.5) rotate(-45)" font-size="6.3" text-anchor="end" fill="#222" stroke="#222" stroke-width="0.15">CAR− CD8+</text>
<line x1="495.72" y1="228.5" x2="495.72" y2="231.6" stroke="#353535" stroke-width="1.1"/>
<text transform="translate(495.62,237.5) rotate(-45)" font-size="6.3" text-anchor="end" fill="#222" stroke="#222" stroke-width="0.15">CAR− CD4+</text>
<text transform="translate(406.85,272.7) scale(0.73,1)" font-size="7.6" text-anchor="middle" fill="#1a1a1a" stroke="#1a1a1a" stroke-width="0.3">T cells type</text>
<text transform="translate(277.2,136.2) rotate(-90) scale(0.73,1)" font-size="7.6" text-anchor="middle" fill="#1a1a1a" stroke="#1a1a1a" stroke-width="0.3">Percent expression</text>
<text x="150.25" y="296.8" font-size="8.1" text-anchor="middle" fill="#1a1a1a" stroke="#1a1a1a" stroke-width="0.15">LAG3</text>
<text x="79.85" y="311.7" font-size="5.9" fill="#222" stroke="#222" stroke-width="0.15">Cohort</text>
<line x1="111.35" y1="304.8" x2="111.35" y2="314.8" stroke="#4f88bf" stroke-width="0.8"/>
<rect x="107.15" y="307.1" width="8.4" height="4.4" fill="#aed6f5" stroke="#9cc2e2" stroke-width="0.4"/>
<line x1="107.15" y1="309.3" x2="115.55" y2="309.3" stroke="#4f88bf" stroke-width="0.8"/>
<circle cx="111.35" cy="309.2" r="0.85" fill="#3a70a8"/>
<line x1="164.45" y1="304.8" x2="164.45" y2="314.8" stroke="#5a9a4c" stroke-width="0.8"/>
<rect x="160.25" y="307.1" width="8.4" height="4.4" fill="#aad893" stroke="#a6c498" stroke-width="0.4"/>
<line x1="160.25" y1="309.3" x2="168.65" y2="309.3" stroke="#5a9a4c" stroke-width="0.8"/>
<circle cx="164.45" cy="309.2" r="0.85" fill="#3a6e38"/>
<text x="118.05" y="311.7" font-size="5.9" fill="#222" stroke="#222" stroke-width="0.15">CAR EBV-CTL</text>
<text x="171.85" y="311.7" font-size="5.9" fill="#222" stroke="#222" stroke-width="0.15">Autologous CAR T</text>
<line x1="55.79" y1="343.1" x2="55.79" y2="351.5" stroke="#7ca8d2" stroke-width="0.8"/>
<line x1="55.79" y1="387.2" x2="55.79" y2="402.2" stroke="#7ca8d2" stroke-width="0.8"/>
<rect x="50.99" y="351.5" width="9.6" height="35.7" fill="#aed6f5" stroke="#9cc2e2" stroke-width="0.5"/>
<line x1="50.99" y1="357.6" x2="60.59" y2="357.6" stroke="#4f88bf" stroke-width="1"/>
<circle cx="56.28" cy="379.52" r="0.85" fill="#3a70a8"/>
<circle cx="55.86" cy="384.15" r="0.85" fill="#3a70a8"/>
<circle cx="56.69" cy="350.41" r="0.85" fill="#3a70a8"/>
<circle cx="55.82" cy="349.53" r="0.85" fill="#3a70a8"/>
<circle cx="55.82" cy="369.27" r="0.85" fill="#3a70a8"/>
<circle cx="56.13" cy="395.78" r="0.85" fill="#3a70a8"/>
<circle cx="55.59" cy="379.48" r="0.85" fill="#3a70a8"/>
<circle cx="55.54" cy="396.31" r="0.85" fill="#3a70a8"/>
<circle cx="55.96" cy="367.65" r="0.85" fill="#3a70a8"/>
<circle cx="55.52" cy="377.31" r="0.85" fill="#3a70a8"/>
<circle cx="56.6" cy="365.45" r="0.85" fill="#3a70a8"/>
<circle cx="56.11" cy="365.23" r="0.85" fill="#3a70a8"/>
<circle cx="55.84" cy="379.6" r="0.85" fill="#3a70a8"/>
<circle cx="55.07" cy="394.69" r="0.85" fill="#3a70a8"/>
<circle cx="55.57" cy="358.08" r="0.85" fill="#3a70a8"/>
<circle cx="55.61" cy="356.68" r="0.85" fill="#3a70a8"/>
<circle cx="55.9" cy="372.26" r="0.85" fill="#3a70a8"/>
<circle cx="55.92" cy="350.83" r="0.85" fill="#3a70a8"/>
<circle cx="56.48" cy="381.61" r="0.85" fill="#3a70a8"/>
<circle cx="56.63" cy="401.58" r="0.85" fill="#3a70a8"/>
<circle cx="55.77" cy="346.68" r="0.85" fill="#3a70a8"/>
<circle cx="55.68" cy="387.36" r="0.85" fill="#3a70a8"/>
<circle cx="56.02" cy="347.85" r="0.85" fill="#3a70a8"/>
<circle cx="56.68" cy="384.36" r="0.85" fill="#3a70a8"/>
<circle cx="55.51" cy="343.1" r="0.85" fill="#3a70a8"/>
<circle cx="55.85" cy="402.2" r="0.85" fill="#3a70a8"/>
<line x1="66.79" y1="353" x2="66.79" y2="369.2" stroke="#6fa266" stroke-width="0.8"/>
<line x1="66.79" y1="385.7" x2="66.79" y2="409.8" stroke="#6fa266" stroke-width="0.8"/>
<rect x="61.99" y="369.2" width="9.6" height="16.5" fill="#aad893" stroke="#a6c498" stroke-width="0.5"/>
<line x1="61.99" y1="375.6" x2="71.59" y2="375.6" stroke="#5a9a4c" stroke-width="1"/>
<circle cx="66.2" cy="389.81" r="0.85" fill="#3a6e38"/>
<circle cx="66.83" cy="385.34" r="0.85" fill="#3a6e38"/>
<circle cx="67.37" cy="398.05" r="0.85" fill="#3a6e38"/>
<circle cx="67" cy="367.49" r="0.85" fill="#3a6e38"/>
<circle cx="67.34" cy="382.74" r="0.85" fill="#3a6e38"/>
<circle cx="66" cy="407.1" r="0.85" fill="#3a6e38"/>
<circle cx="65.91" cy="371.78" r="0.85" fill="#3a6e38"/>
<circle cx="67.28" cy="377.64" r="0.85" fill="#3a6e38"/>
<circle cx="66.47" cy="372.3" r="0.85" fill="#3a6e38"/>
<circle cx="67.18" cy="363.21" r="0.85" fill="#3a6e38"/>
<circle cx="66.53" cy="375.03" r="0.85" fill="#3a6e38"/>
<circle cx="66.2" cy="401.04" r="0.85" fill="#3a6e38"/>
<circle cx="66.37" cy="359.66" r="0.85" fill="#3a6e38"/>
<circle cx="66.07" cy="393.09" r="0.85" fill="#3a6e38"/>
<circle cx="67.52" cy="369.26" r="0.85" fill="#3a6e38"/>
<circle cx="66.94" cy="383.1" r="0.85" fill="#3a6e38"/>
<circle cx="66.52" cy="380.22" r="0.85" fill="#3a6e38"/>
<circle cx="66.7" cy="361.07" r="0.85" fill="#3a6e38"/>
<circle cx="66.59" cy="373.59" r="0.85" fill="#3a6e38"/>
<circle cx="65.99" cy="377.97" r="0.85" fill="#3a6e38"/>
<circle cx="67.49" cy="399.54" r="0.85" fill="#3a6e38"/>
<circle cx="66.94" cy="371.2" r="0.85" fill="#3a6e38"/>
<circle cx="67.62" cy="365.3" r="0.85" fill="#3a6e38"/>
<circle cx="66.68" cy="354.62" r="0.85" fill="#3a6e38"/>
<circle cx="67.01" cy="353" r="0.85" fill="#3a6e38"/>
<circle cx="66.34" cy="409.8" r="0.85" fill="#3a6e38"/>
<circle cx="65.97" cy="416.7" r="0.85" fill="#3a6e38"/>
<circle cx="67.57" cy="440" r="0.85" fill="#3a6e38"/>
<line x1="85.44" y1="341.4" x2="85.44" y2="346.6" stroke="#7ca8d2" stroke-width="0.8"/>
<line x1="85.44" y1="367.5" x2="85.44" y2="382.8" stroke="#7ca8d2" stroke-width="0.8"/>
<rect x="80.64" y="346.6" width="9.6" height="20.9" fill="#aed6f5" stroke="#9cc2e2" stroke-width="0.5"/>
<line x1="80.64" y1="353.8" x2="90.24" y2="353.8" stroke="#4f88bf" stroke-width="1"/>
<circle cx="84.83" cy="372.32" r="0.85" fill="#3a70a8"/>
<circle cx="85.18" cy="379.98" r="0.85" fill="#3a70a8"/>
<circle cx="85.84" cy="359.19" r="0.85" fill="#3a70a8"/>
<circle cx="85.22" cy="375.08" r="0.85" fill="#3a70a8"/>
<circle cx="86.27" cy="371.22" r="0.85" fill="#3a70a8"/>
<circle cx="84.92" cy="361.62" r="0.85" fill="#3a70a8"/>
<circle cx="86.26" cy="353.06" r="0.85" fill="#3a70a8"/>
<circle cx="85.45" cy="374.91" r="0.85" fill="#3a70a8"/>
<circle cx="84.95" cy="371.22" r="0.85" fill="#3a70a8"/>
<circle cx="85.36" cy="343.26" r="0.85" fill="#3a70a8"/>
<circle cx="84.78" cy="346.45" r="0.85" fill="#3a70a8"/>
<circle cx="85.82" cy="358.34" r="0.85" fill="#3a70a8"/>
<circle cx="85.01" cy="344.18" r="0.85" fill="#3a70a8"/>
<circle cx="86.16" cy="355.03" r="0.85" fill="#3a70a8"/>
<circle cx="85.6" cy="342.04" r="0.85" fill="#3a70a8"/>
<circle cx="85.21" cy="372.87" r="0.85" fill="#3a70a8"/>
<circle cx="84.99" cy="350.6" r="0.85" fill="#3a70a8"/>
<circle cx="85.64" cy="351.56" r="0.85" fill="#3a70a8"/>
<circle cx="84.93" cy="344.85" r="0.85" fill="#3a70a8"/>
<circle cx="86.11" cy="349.86" r="0.85" fill="#3a70a8"/>
<circle cx="84.77" cy="348.54" r="0.85" fill="#3a70a8"/>
<circle cx="85.47" cy="364.05" r="0.85" fill="#3a70a8"/>
<circle cx="85.52" cy="343.71" r="0.85" fill="#3a70a8"/>
<circle cx="85.03" cy="379.82" r="0.85" fill="#3a70a8"/>
<circle cx="85.93" cy="341.4" r="0.85" fill="#3a70a8"/>
<circle cx="85.24" cy="382.8" r="0.85" fill="#3a70a8"/>
<line x1="96.44" y1="350.1" x2="96.44" y2="366.9" stroke="#6fa266" stroke-width="0.8"/>
<line x1="96.44" y1="379.9" x2="96.44" y2="401.1" stroke="#6fa266" stroke-width="0.8"/>
<rect x="91.64" y="366.9" width="9.6" height="13" fill="#aad893" stroke="#a6c498" stroke-width="0.5"/>
<line x1="91.64" y1="370.4" x2="101.24" y2="370.4" stroke="#5a9a4c" stroke-width="1"/>
<circle cx="96.23" cy="374.28" r="0.85" fill="#3a6e38"/>
<circle cx="95.62" cy="371.97" r="0.85" fill="#3a6e38"/>
<circle cx="96.1" cy="353.07" r="0.85" fill="#3a6e38"/>
<circle cx="96.69" cy="386.71" r="0.85" fill="#3a6e38"/>
<circle cx="95.87" cy="368.32" r="0.85" fill="#3a6e38"/>
<circle cx="97.06" cy="371.6" r="0.85" fill="#3a6e38"/>
<circle cx="96.57" cy="370.76" r="0.85" fill="#3a6e38"/>
<circle cx="96.83" cy="355.33" r="0.85" fill="#3a6e38"/>
<circle cx="96" cy="368.54" r="0.85" fill="#3a6e38"/>
<circle cx="96.33" cy="370.57" r="0.85" fill="#3a6e38"/>
<circle cx="96.78" cy="378.72" r="0.85" fill="#3a6e38"/>
<circle cx="96.17" cy="378.38" r="0.85" fill="#3a6e38"/>
<circle cx="95.55" cy="382.7" r="0.85" fill="#3a6e38"/>
<circle cx="97.05" cy="367.28" r="0.85" fill="#3a6e38"/>
<circle cx="96.94" cy="375.53" r="0.85" fill="#3a6e38"/>
<circle cx="96.06" cy="372.26" r="0.85" fill="#3a6e38"/>
<circle cx="95.62" cy="375.99" r="0.85" fill="#3a6e38"/>
<circle cx="97.08" cy="377.91" r="0.85" fill="#3a6e38"/>
<circle cx="96.64" cy="375.07" r="0.85" fill="#3a6e38"/>
<circle cx="95.63" cy="352.04" r="0.85" fill="#3a6e38"/>
<circle cx="95.98" cy="395.46" r="0.85" fill="#3a6e38"/>
<circle cx="95.74" cy="367.43" r="0.85" fill="#3a6e38"/>
<circle cx="96.97" cy="352.82" r="0.85" fill="#3a6e38"/>
<circle cx="95.92" cy="355.19" r="0.85" fill="#3a6e38"/>
<circle cx="97.19" cy="350.1" r="0.85" fill="#3a6e38"/>
<circle cx="96.89" cy="401.1" r="0.85" fill="#3a6e38"/>
<circle cx="95.7" cy="413.8" r="0.85" fill="#3a6e38"/>
<circle cx="96.79" cy="419.6" r="0.85" fill="#3a6e38"/>
<circle cx="96.25" cy="428.3" r="0.85" fill="#3a6e38"/>
<line x1="115.1" y1="343.1" x2="115.1" y2="348" stroke="#7ca8d2" stroke-width="0.8"/>
<line x1="115.1" y1="365.4" x2="115.1" y2="384.3" stroke="#7ca8d2" stroke-width="0.8"/>
<rect x="110.3" y="348" width="9.6" height="17.4" fill="#aed6f5" stroke="#9cc2e2" stroke-width="0.5"/>
<line x1="110.3" y1="354.7" x2="119.9" y2="354.7" stroke="#4f88bf" stroke-width="1"/>
<circle cx="115.18" cy="362.42" r="0.85" fill="#3a70a8"/>
<circle cx="115.57" cy="349.56" r="0.85" fill="#3a70a8"/>
<circle cx="114.5" cy="373.41" r="0.85" fill="#3a70a8"/>
<circle cx="115.4" cy="378.47" r="0.85" fill="#3a70a8"/>
<circle cx="115.27" cy="362.44" r="0.85" fill="#3a70a8"/>
<circle cx="115.03" cy="355.88" r="0.85" fill="#3a70a8"/>
<circle cx="115.58" cy="346.52" r="0.85" fill="#3a70a8"/>
<circle cx="115.69" cy="356.91" r="0.85" fill="#3a70a8"/>
<circle cx="114.4" cy="367.81" r="0.85" fill="#3a70a8"/>
<circle cx="114.72" cy="348.76" r="0.85" fill="#3a70a8"/>
<circle cx="114.85" cy="362.02" r="0.85" fill="#3a70a8"/>
<circle cx="114.57" cy="357.51" r="0.85" fill="#3a70a8"/>
<circle cx="114.31" cy="377.45" r="0.85" fill="#3a70a8"/>
<circle cx="114.7" cy="352.34" r="0.85" fill="#3a70a8"/>
<circle cx="114.55" cy="344.85" r="0.85" fill="#3a70a8"/>
<circle cx="115.46" cy="351.5" r="0.85" fill="#3a70a8"/>
<circle cx="115" cy="350.38" r="0.85" fill="#3a70a8"/>
<circle cx="114.4" cy="359.66" r="0.85" fill="#3a70a8"/>
<circle cx="114.78" cy="352.21" r="0.85" fill="#3a70a8"/>
<circle cx="115.04" cy="355.74" r="0.85" fill="#3a70a8"/>
<circle cx="114.85" cy="372.04" r="0.85" fill="#3a70a8"/>
<circle cx="114.5" cy="363.39" r="0.85" fill="#3a70a8"/>
<circle cx="114.33" cy="345.86" r="0.85" fill="#3a70a8"/>
<circle cx="114.22" cy="362.19" r="0.85" fill="#3a70a8"/>
<circle cx="115.98" cy="343.1" r="0.85" fill="#3a70a8"/>
<circle cx="115.55" cy="384.3" r="0.85" fill="#3a70a8"/>
<line x1="126.1" y1="349.5" x2="126.1" y2="384.9" stroke="#6fa266" stroke-width="0.8"/>
<line x1="126.1" y1="416.7" x2="126.1" y2="445.1" stroke="#6fa266" stroke-width="0.8"/>
<rect x="121.3" y="384.9" width="9.6" height="31.8" fill="#aad893" stroke="#a6c498" stroke-width="0.5"/>
<line x1="121.3" y1="395.9" x2="130.9" y2="395.9" stroke="#5a9a4c" stroke-width="1"/>
<circle cx="125.48" cy="374.89" r="0.85" fill="#3a6e38"/>
<circle cx="125.74" cy="432.71" r="0.85" fill="#3a6e38"/>
<circle cx="126.24" cy="366.81" r="0.85" fill="#3a6e38"/>
<circle cx="125.34" cy="390.94" r="0.85" fill="#3a6e38"/>
<circle cx="126.44" cy="385.16" r="0.85" fill="#3a6e38"/>
<circle cx="125.49" cy="435" r="0.85" fill="#3a6e38"/>
<circle cx="125.99" cy="414.64" r="0.85" fill="#3a6e38"/>
<circle cx="126.94" cy="392.89" r="0.85" fill="#3a6e38"/>
<circle cx="125.36" cy="389.31" r="0.85" fill="#3a6e38"/>
<circle cx="125.27" cy="376.92" r="0.85" fill="#3a6e38"/>
<circle cx="125.99" cy="425.12" r="0.85" fill="#3a6e38"/>
<circle cx="125.54" cy="372.09" r="0.85" fill="#3a6e38"/>
<circle cx="126.5" cy="443.02" r="0.85" fill="#3a6e38"/>
<circle cx="125.2" cy="377.28" r="0.85" fill="#3a6e38"/>
<circle cx="126.71" cy="437.78" r="0.85" fill="#3a6e38"/>
<circle cx="126.74" cy="390.77" r="0.85" fill="#3a6e38"/>
<circle cx="126.61" cy="425.79" r="0.85" fill="#3a6e38"/>
<circle cx="125.96" cy="402.43" r="0.85" fill="#3a6e38"/>
<circle cx="125.71" cy="411.34" r="0.85" fill="#3a6e38"/>
<circle cx="126.39" cy="386.21" r="0.85" fill="#3a6e38"/>
<circle cx="126.12" cy="404.88" r="0.85" fill="#3a6e38"/>
<circle cx="125.96" cy="436.74" r="0.85" fill="#3a6e38"/>
<circle cx="125.81" cy="443.54" r="0.85" fill="#3a6e38"/>
<circle cx="125.99" cy="400.79" r="0.85" fill="#3a6e38"/>
<circle cx="126.4" cy="349.5" r="0.85" fill="#3a6e38"/>
<circle cx="126.68" cy="445.1" r="0.85" fill="#3a6e38"/>
<circle cx="126.82" cy="468.3" r="0.85" fill="#3a6e38"/>
<line x1="144.75" y1="339.9" x2="144.75" y2="342.8" stroke="#7ca8d2" stroke-width="0.8"/>
<line x1="144.75" y1="348" x2="144.75" y2="349.5" stroke="#7ca8d2" stroke-width="0.8"/>
<rect x="139.95" y="342.8" width="9.6" height="5.2" fill="#aed6f5" stroke="#9cc2e2" stroke-width="0.5"/>
<line x1="139.95" y1="345.1" x2="149.55" y2="345.1" stroke="#4f88bf" stroke-width="1"/>
<circle cx="144.3" cy="340.76" r="0.85" fill="#3a70a8"/>
<circle cx="144.73" cy="345.73" r="0.85" fill="#3a70a8"/>
<circle cx="144.85" cy="343.82" r="0.85" fill="#3a70a8"/>
<circle cx="144.26" cy="340.84" r="0.85" fill="#3a70a8"/>
<circle cx="144.88" cy="347.85" r="0.85" fill="#3a70a8"/>
<circle cx="144.05" cy="349.3" r="0.85" fill="#3a70a8"/>
<circle cx="144.77" cy="349.44" r="0.85" fill="#3a70a8"/>
<circle cx="144.91" cy="347.02" r="0.85" fill="#3a70a8"/>
<circle cx="143.99" cy="341.86" r="0.85" fill="#3a70a8"/>
<circle cx="144.58" cy="344.34" r="0.85" fill="#3a70a8"/>
<circle cx="143.98" cy="347.75" r="0.85" fill="#3a70a8"/>
<circle cx="144.64" cy="346.17" r="0.85" fill="#3a70a8"/>
<circle cx="145.4" cy="344.59" r="0.85" fill="#3a70a8"/>
<circle cx="144.84" cy="348.04" r="0.85" fill="#3a70a8"/>
<circle cx="145.14" cy="341.87" r="0.85" fill="#3a70a8"/>
<circle cx="145.21" cy="343.24" r="0.85" fill="#3a70a8"/>
<circle cx="144.06" cy="344.73" r="0.85" fill="#3a70a8"/>
<circle cx="145.63" cy="344.97" r="0.85" fill="#3a70a8"/>
<circle cx="145.15" cy="345.74" r="0.85" fill="#3a70a8"/>
<circle cx="144.03" cy="343.39" r="0.85" fill="#3a70a8"/>
<circle cx="145.34" cy="342.48" r="0.85" fill="#3a70a8"/>
<circle cx="144.56" cy="343.38" r="0.85" fill="#3a70a8"/>
<circle cx="144.16" cy="348.38" r="0.85" fill="#3a70a8"/>
<circle cx="145.58" cy="341.44" r="0.85" fill="#3a70a8"/>
<circle cx="144.86" cy="339.9" r="0.85" fill="#3a70a8"/>
<circle cx="145.24" cy="349.5" r="0.85" fill="#3a70a8"/>
<circle cx="144.1" cy="359.6" r="0.85" fill="#3a70a8"/>
<line x1="155.75" y1="343.1" x2="155.75" y2="353.8" stroke="#6fa266" stroke-width="0.8"/>
<line x1="155.75" y1="366.3" x2="155.75" y2="379.9" stroke="#6fa266" stroke-width="0.8"/>
<rect x="150.95" y="353.8" width="9.6" height="12.5" fill="#aad893" stroke="#a6c498" stroke-width="0.5"/>
<line x1="150.95" y1="360.5" x2="160.55" y2="360.5" stroke="#5a9a4c" stroke-width="1"/>
<circle cx="155.54" cy="354.52" r="0.85" fill="#3a6e38"/>
<circle cx="155.11" cy="358.45" r="0.85" fill="#3a6e38"/>
<circle cx="156.43" cy="349.46" r="0.85" fill="#3a6e38"/>
<circle cx="155.82" cy="346.31" r="0.85" fill="#3a6e38"/>
<circle cx="156.09" cy="359.12" r="0.85" fill="#3a6e38"/>
<circle cx="156.3" cy="374.75" r="0.85" fill="#3a6e38"/>
<circle cx="156.56" cy="373.96" r="0.85" fill="#3a6e38"/>
<circle cx="154.87" cy="378.14" r="0.85" fill="#3a6e38"/>
<circle cx="155.47" cy="351.08" r="0.85" fill="#3a6e38"/>
<circle cx="155.12" cy="363.35" r="0.85" fill="#3a6e38"/>
<circle cx="155.75" cy="364.12" r="0.85" fill="#3a6e38"/>
<circle cx="156.42" cy="347.09" r="0.85" fill="#3a6e38"/>
<circle cx="156.29" cy="365.65" r="0.85" fill="#3a6e38"/>
<circle cx="154.91" cy="354.34" r="0.85" fill="#3a6e38"/>
<circle cx="155.18" cy="355.05" r="0.85" fill="#3a6e38"/>
<circle cx="156.32" cy="363.84" r="0.85" fill="#3a6e38"/>
<circle cx="156.07" cy="353" r="0.85" fill="#3a6e38"/>
<circle cx="155.56" cy="356.98" r="0.85" fill="#3a6e38"/>
<circle cx="155.71" cy="347.88" r="0.85" fill="#3a6e38"/>
<circle cx="155.13" cy="374.21" r="0.85" fill="#3a6e38"/>
<circle cx="156.37" cy="343.32" r="0.85" fill="#3a6e38"/>
<circle cx="155.56" cy="351.67" r="0.85" fill="#3a6e38"/>
<circle cx="156.42" cy="349.03" r="0.85" fill="#3a6e38"/>
<circle cx="155.95" cy="362.39" r="0.85" fill="#3a6e38"/>
<circle cx="154.99" cy="343.1" r="0.85" fill="#3a6e38"/>
<circle cx="155.44" cy="379.9" r="0.85" fill="#3a6e38"/>
<circle cx="155.24" cy="393" r="0.85" fill="#3a6e38"/>
<circle cx="156.46" cy="406.9" r="0.85" fill="#3a6e38"/>
<line x1="174.4" y1="343.1" x2="174.4" y2="351.8" stroke="#7ca8d2" stroke-width="0.8"/>
<line x1="174.4" y1="388.6" x2="174.4" y2="403.1" stroke="#7ca8d2" stroke-width="0.8"/>
<rect x="169.6" y="351.8" width="9.6" height="36.8" fill="#aed6f5" stroke="#9cc2e2" stroke-width="0.5"/>
<line x1="169.6" y1="357.6" x2="179.2" y2="357.6" stroke="#4f88bf" stroke-width="1"/>
<circle cx="174.08" cy="353.41" r="0.85" fill="#3a70a8"/>
<circle cx="175.28" cy="346.24" r="0.85" fill="#3a70a8"/>
<circle cx="174.37" cy="373.04" r="0.85" fill="#3a70a8"/>
<circle cx="174.16" cy="364.82" r="0.85" fill="#3a70a8"/>
<circle cx="173.94" cy="348.14" r="0.85" fill="#3a70a8"/>
<circle cx="173.93" cy="352.55" r="0.85" fill="#3a70a8"/>
<circle cx="174.13" cy="388.1" r="0.85" fill="#3a70a8"/>
<circle cx="173.75" cy="344.37" r="0.85" fill="#3a70a8"/>
<circle cx="173.52" cy="361.83" r="0.85" fill="#3a70a8"/>
<circle cx="175.07" cy="370.2" r="0.85" fill="#3a70a8"/>
<circle cx="174.32" cy="372.74" r="0.85" fill="#3a70a8"/>
<circle cx="174.3" cy="387.02" r="0.85" fill="#3a70a8"/>
<circle cx="174.53" cy="389.09" r="0.85" fill="#3a70a8"/>
<circle cx="174.05" cy="380.17" r="0.85" fill="#3a70a8"/>
<circle cx="173.81" cy="399.83" r="0.85" fill="#3a70a8"/>
<circle cx="173.62" cy="375.15" r="0.85" fill="#3a70a8"/>
<circle cx="174.05" cy="362.16" r="0.85" fill="#3a70a8"/>
<circle cx="174.06" cy="401.26" r="0.85" fill="#3a70a8"/>
<circle cx="174.81" cy="398.48" r="0.85" fill="#3a70a8"/>
<circle cx="174.5" cy="379.89" r="0.85" fill="#3a70a8"/>
<circle cx="175.19" cy="370.53" r="0.85" fill="#3a70a8"/>
<circle cx="174.12" cy="364.7" r="0.85" fill="#3a70a8"/>
<circle cx="175.16" cy="366.74" r="0.85" fill="#3a70a8"/>
<circle cx="174.55" cy="346.03" r="0.85" fill="#3a70a8"/>
<circle cx="173.65" cy="343.1" r="0.85" fill="#3a70a8"/>
<circle cx="173.82" cy="403.1" r="0.85" fill="#3a70a8"/>
<line x1="185.4" y1="351" x2="185.4" y2="370.4" stroke="#6fa266" stroke-width="0.8"/>
<line x1="185.4" y1="387.8" x2="185.4" y2="410.4" stroke="#6fa266" stroke-width="0.8"/>
<rect x="180.6" y="370.4" width="9.6" height="17.4" fill="#aad893" stroke="#a6c498" stroke-width="0.5"/>
<line x1="180.6" y1="377" x2="190.2" y2="377" stroke="#5a9a4c" stroke-width="1"/>
<circle cx="185.58" cy="387.58" r="0.85" fill="#3a6e38"/>
<circle cx="184.97" cy="383.88" r="0.85" fill="#3a6e38"/>
<circle cx="185.34" cy="385.51" r="0.85" fill="#3a6e38"/>
<circle cx="184.53" cy="360.4" r="0.85" fill="#3a6e38"/>
<circle cx="186.17" cy="394.03" r="0.85" fill="#3a6e38"/>
<circle cx="185.52" cy="370.8" r="0.85" fill="#3a6e38"/>
<circle cx="186.28" cy="356.2" r="0.85" fill="#3a6e38"/>
<circle cx="184.6" cy="374.2" r="0.85" fill="#3a6e38"/>
<circle cx="185.61" cy="373.89" r="0.85" fill="#3a6e38"/>
<circle cx="185.81" cy="385.43" r="0.85" fill="#3a6e38"/>
<circle cx="185.1" cy="373.82" r="0.85" fill="#3a6e38"/>
<circle cx="184.67" cy="387.16" r="0.85" fill="#3a6e38"/>
<circle cx="184.78" cy="371.78" r="0.85" fill="#3a6e38"/>
<circle cx="184.76" cy="407.59" r="0.85" fill="#3a6e38"/>
<circle cx="185.88" cy="372.78" r="0.85" fill="#3a6e38"/>
<circle cx="184.66" cy="361.42" r="0.85" fill="#3a6e38"/>
<circle cx="185.97" cy="402.26" r="0.85" fill="#3a6e38"/>
<circle cx="185.26" cy="392.6" r="0.85" fill="#3a6e38"/>
<circle cx="185.47" cy="383.44" r="0.85" fill="#3a6e38"/>
<circle cx="185.56" cy="377.45" r="0.85" fill="#3a6e38"/>
<circle cx="185.5" cy="376.28" r="0.85" fill="#3a6e38"/>
<circle cx="185.69" cy="359.04" r="0.85" fill="#3a6e38"/>
<circle cx="185.59" cy="363.15" r="0.85" fill="#3a6e38"/>
<circle cx="185.1" cy="379" r="0.85" fill="#3a6e38"/>
<circle cx="185.84" cy="351" r="0.85" fill="#3a6e38"/>
<circle cx="184.97" cy="410.4" r="0.85" fill="#3a6e38"/>
<circle cx="185.78" cy="416.7" r="0.85" fill="#3a6e38"/>
<circle cx="185.88" cy="421.1" r="0.85" fill="#3a6e38"/>
<circle cx="185.9" cy="441.4" r="0.85" fill="#3a6e38"/>
<line x1="204.06" y1="346" x2="204.06" y2="351.8" stroke="#7ca8d2" stroke-width="0.8"/>
<line x1="204.06" y1="377" x2="204.06" y2="395.9" stroke="#7ca8d2" stroke-width="0.8"/>
<rect x="199.26" y="351.8" width="9.6" height="25.2" fill="#aed6f5" stroke="#9cc2e2" stroke-width="0.5"/>
<line x1="199.26" y1="354.4" x2="208.86" y2="354.4" stroke="#4f88bf" stroke-width="1"/>
<circle cx="204.17" cy="371.27" r="0.85" fill="#3a70a8"/>
<circle cx="203.89" cy="385.56" r="0.85" fill="#3a70a8"/>
<circle cx="204.81" cy="364.99" r="0.85" fill="#3a70a8"/>
<circle cx="204.86" cy="379.49" r="0.85" fill="#3a70a8"/>
<circle cx="204.28" cy="348.76" r="0.85" fill="#3a70a8"/>
<circle cx="203.56" cy="371.31" r="0.85" fill="#3a70a8"/>
<circle cx="203.61" cy="376.74" r="0.85" fill="#3a70a8"/>
<circle cx="203.63" cy="370.87" r="0.85" fill="#3a70a8"/>
<circle cx="203.94" cy="346.16" r="0.85" fill="#3a70a8"/>
<circle cx="203.57" cy="346.35" r="0.85" fill="#3a70a8"/>
<circle cx="203.52" cy="365.79" r="0.85" fill="#3a70a8"/>
<circle cx="204.52" cy="351.45" r="0.85" fill="#3a70a8"/>
<circle cx="204.31" cy="355.56" r="0.85" fill="#3a70a8"/>
<circle cx="203.69" cy="350.28" r="0.85" fill="#3a70a8"/>
<circle cx="204.95" cy="380.06" r="0.85" fill="#3a70a8"/>
<circle cx="203.55" cy="350.51" r="0.85" fill="#3a70a8"/>
<circle cx="204.18" cy="376.55" r="0.85" fill="#3a70a8"/>
<circle cx="203.44" cy="367.83" r="0.85" fill="#3a70a8"/>
<circle cx="204.71" cy="371.97" r="0.85" fill="#3a70a8"/>
<circle cx="204.72" cy="359.96" r="0.85" fill="#3a70a8"/>
<circle cx="203.64" cy="379.04" r="0.85" fill="#3a70a8"/>
<circle cx="204.51" cy="353.45" r="0.85" fill="#3a70a8"/>
<circle cx="204.64" cy="361.93" r="0.85" fill="#3a70a8"/>
<circle cx="203.66" cy="378.13" r="0.85" fill="#3a70a8"/>
<circle cx="203.75" cy="346" r="0.85" fill="#3a70a8"/>
<circle cx="204.03" cy="395.9" r="0.85" fill="#3a70a8"/>
<line x1="215.06" y1="347.2" x2="215.06" y2="388.6" stroke="#6fa266" stroke-width="0.8"/>
<line x1="215.06" y1="419.6" x2="215.06" y2="466.9" stroke="#6fa266" stroke-width="0.8"/>
<rect x="210.26" y="388.6" width="9.6" height="31" fill="#aad893" stroke="#a6c498" stroke-width="0.5"/>
<line x1="210.26" y1="395.9" x2="219.86" y2="395.9" stroke="#5a9a4c" stroke-width="1"/>
<circle cx="214.93" cy="427.24" r="0.85" fill="#3a6e38"/>
<circle cx="214.48" cy="407.13" r="0.85" fill="#3a6e38"/>
<circle cx="215.39" cy="406.56" r="0.85" fill="#3a6e38"/>
<circle cx="214.42" cy="429.52" r="0.85" fill="#3a6e38"/>
<circle cx="215.48" cy="436.65" r="0.85" fill="#3a6e38"/>
<circle cx="215.06" cy="415.36" r="0.85" fill="#3a6e38"/>
<circle cx="214.36" cy="382.97" r="0.85" fill="#3a6e38"/>
<circle cx="214.79" cy="433.68" r="0.85" fill="#3a6e38"/>
<circle cx="215.05" cy="351.82" r="0.85" fill="#3a6e38"/>
<circle cx="215.81" cy="420.05" r="0.85" fill="#3a6e38"/>
<circle cx="214.78" cy="426.73" r="0.85" fill="#3a6e38"/>
<circle cx="214.54" cy="391.62" r="0.85" fill="#3a6e38"/>
<circle cx="215.9" cy="375.47" r="0.85" fill="#3a6e38"/>
<circle cx="215.75" cy="361.26" r="0.85" fill="#3a6e38"/>
<circle cx="215.47" cy="453.48" r="0.85" fill="#3a6e38"/>
<circle cx="214.65" cy="465.94" r="0.85" fill="#3a6e38"/>
<circle cx="214.47" cy="356.91" r="0.85" fill="#3a6e38"/>
<circle cx="214.63" cy="452.21" r="0.85" fill="#3a6e38"/>
<circle cx="214.28" cy="368.1" r="0.85" fill="#3a6e38"/>
<circle cx="214.23" cy="401.95" r="0.85" fill="#3a6e38"/>
<circle cx="215.07" cy="348.03" r="0.85" fill="#3a6e38"/>
<circle cx="214.89" cy="434.57" r="0.85" fill="#3a6e38"/>
<circle cx="215.16" cy="425.3" r="0.85" fill="#3a6e38"/>
<circle cx="214.81" cy="392.81" r="0.85" fill="#3a6e38"/>
<circle cx="214.17" cy="347.2" r="0.85" fill="#3a6e38"/>
<circle cx="215.39" cy="466.9" r="0.85" fill="#3a6e38"/>
<line x1="233.71" y1="339.9" x2="233.71" y2="342.8" stroke="#7ca8d2" stroke-width="0.8"/>
<line x1="233.71" y1="348.6" x2="233.71" y2="351" stroke="#7ca8d2" stroke-width="0.8"/>
<rect x="228.91" y="342.8" width="9.6" height="5.8" fill="#aed6f5" stroke="#9cc2e2" stroke-width="0.5"/>
<line x1="228.91" y1="345.7" x2="238.51" y2="345.7" stroke="#4f88bf" stroke-width="1"/>
<circle cx="233.91" cy="345.96" r="0.85" fill="#3a70a8"/>
<circle cx="234.03" cy="346.8" r="0.85" fill="#3a70a8"/>
<circle cx="233.39" cy="350.7" r="0.85" fill="#3a70a8"/>
<circle cx="233.94" cy="345.12" r="0.85" fill="#3a70a8"/>
<circle cx="233.79" cy="345.23" r="0.85" fill="#3a70a8"/>
<circle cx="233.21" cy="349.53" r="0.85" fill="#3a70a8"/>
<circle cx="233.91" cy="345.18" r="0.85" fill="#3a70a8"/>
<circle cx="233.29" cy="342.8" r="0.85" fill="#3a70a8"/>
<circle cx="234.44" cy="341.66" r="0.85" fill="#3a70a8"/>
<circle cx="233.66" cy="349.21" r="0.85" fill="#3a70a8"/>
<circle cx="234.11" cy="344.99" r="0.85" fill="#3a70a8"/>
<circle cx="233.75" cy="343.95" r="0.85" fill="#3a70a8"/>
<circle cx="233.67" cy="342.34" r="0.85" fill="#3a70a8"/>
<circle cx="233.21" cy="350.78" r="0.85" fill="#3a70a8"/>
<circle cx="233.06" cy="341.91" r="0.85" fill="#3a70a8"/>
<circle cx="234.48" cy="346.55" r="0.85" fill="#3a70a8"/>
<circle cx="233.76" cy="344.63" r="0.85" fill="#3a70a8"/>
<circle cx="233.75" cy="348.6" r="0.85" fill="#3a70a8"/>
<circle cx="233.76" cy="347.75" r="0.85" fill="#3a70a8"/>
<circle cx="234.27" cy="346.24" r="0.85" fill="#3a70a8"/>
<circle cx="233.24" cy="349.16" r="0.85" fill="#3a70a8"/>
<circle cx="233.12" cy="347.11" r="0.85" fill="#3a70a8"/>
<circle cx="234.29" cy="346.93" r="0.85" fill="#3a70a8"/>
<circle cx="233.64" cy="345.85" r="0.85" fill="#3a70a8"/>
<circle cx="233.96" cy="339.9" r="0.85" fill="#3a70a8"/>
<circle cx="234.3" cy="351" r="0.85" fill="#3a70a8"/>
<circle cx="234.42" cy="364.9" r="0.85" fill="#3a70a8"/>
<line x1="244.71" y1="343.1" x2="244.71" y2="355.3" stroke="#6fa266" stroke-width="0.8"/>
<line x1="244.71" y1="368.9" x2="244.71" y2="389.5" stroke="#6fa266" stroke-width="0.8"/>
<rect x="239.91" y="355.3" width="9.6" height="13.6" fill="#aad893" stroke="#a6c498" stroke-width="0.5"/>
<line x1="239.91" y1="361.7" x2="249.51" y2="361.7" stroke="#5a9a4c" stroke-width="1"/>
<circle cx="244.6" cy="369.79" r="0.85" fill="#3a6e38"/>
<circle cx="244.47" cy="366.62" r="0.85" fill="#3a6e38"/>
<circle cx="245.09" cy="371.43" r="0.85" fill="#3a6e38"/>
<circle cx="244.34" cy="346.17" r="0.85" fill="#3a6e38"/>
<circle cx="244.54" cy="347.45" r="0.85" fill="#3a6e38"/>
<circle cx="244.98" cy="379.64" r="0.85" fill="#3a6e38"/>
<circle cx="245.27" cy="356.5" r="0.85" fill="#3a6e38"/>
<circle cx="244.44" cy="368.86" r="0.85" fill="#3a6e38"/>
<circle cx="244.5" cy="361.41" r="0.85" fill="#3a6e38"/>
<circle cx="244.85" cy="366.16" r="0.85" fill="#3a6e38"/>
<circle cx="245.47" cy="357.34" r="0.85" fill="#3a6e38"/>
<circle cx="244.15" cy="360.29" r="0.85" fill="#3a6e38"/>
<circle cx="245.56" cy="358.53" r="0.85" fill="#3a6e38"/>
<circle cx="245.09" cy="359.93" r="0.85" fill="#3a6e38"/>
<circle cx="244.48" cy="355.54" r="0.85" fill="#3a6e38"/>
<circle cx="245.01" cy="350.06" r="0.85" fill="#3a6e38"/>
<circle cx="244.4" cy="345.28" r="0.85" fill="#3a6e38"/>
<circle cx="243.94" cy="359.03" r="0.85" fill="#3a6e38"/>
<circle cx="245.17" cy="358.59" r="0.85" fill="#3a6e38"/>
<circle cx="244.49" cy="370.78" r="0.85" fill="#3a6e38"/>
<circle cx="244.75" cy="366.98" r="0.85" fill="#3a6e38"/>
<circle cx="244.7" cy="348.26" r="0.85" fill="#3a6e38"/>
<circle cx="245.43" cy="381.63" r="0.85" fill="#3a6e38"/>
<circle cx="245.17" cy="355.9" r="0.85" fill="#3a6e38"/>
<circle cx="243.85" cy="343.1" r="0.85" fill="#3a6e38"/>
<circle cx="244.88" cy="389.5" r="0.85" fill="#3a6e38"/>
<circle cx="244.64" cy="401.7" r="0.85" fill="#3a6e38"/>
<circle cx="244.64" cy="407.5" r="0.85" fill="#3a6e38"/>
<text x="61.29" y="326.5" font-size="6.1" text-anchor="middle" fill="#222" stroke="#222" stroke-width="0.18"><tspan font-style="italic">P</tspan> = .022</text>
<line x1="52.19" y1="330.8" x2="69.79" y2="330.8" stroke="#1a1a1a" stroke-width="1.2"/>
<text x="90.94" y="326.5" font-size="6.1" text-anchor="middle" fill="#222" stroke="#222" stroke-width="0.18"><tspan font-style="italic">P</tspan> = .001</text>
<line x1="81.84" y1="330.8" x2="99.44" y2="330.8" stroke="#1a1a1a" stroke-width="1.2"/>
<text x="120.6" y="326.5" font-size="6.1" text-anchor="middle" fill="#222" stroke="#222" stroke-width="0.18"><tspan font-style="italic">P</tspan> < .001</text>
<line x1="111.5" y1="330.8" x2="129.1" y2="330.8" stroke="#1a1a1a" stroke-width="1.2"/>
<text x="150.25" y="326.5" font-size="6.1" text-anchor="middle" fill="#222" stroke="#222" stroke-width="0.18"><tspan font-style="italic">P</tspan> < .001</text>
<line x1="141.15" y1="330.8" x2="158.75" y2="330.8" stroke="#1a1a1a" stroke-width="1.2"/>
<text x="179.9" y="326.5" font-size="6.1" text-anchor="middle" fill="#222" stroke="#222" stroke-width="0.18"><tspan font-style="italic">P</tspan> = .023</text>
<line x1="170.8" y1="330.8" x2="188.4" y2="330.8" stroke="#1a1a1a" stroke-width="1.2"/>
<text x="209.56" y="326.5" font-size="6.1" text-anchor="middle" fill="#222" stroke="#222" stroke-width="0.18"><tspan font-style="italic">P</tspan> < .001</text>
<line x1="200.46" y1="330.8" x2="218.06" y2="330.8" stroke="#1a1a1a" stroke-width="1.2"/>
<text x="239.21" y="326.5" font-size="6.1" text-anchor="middle" fill="#222" stroke="#222" stroke-width="0.18"><tspan font-style="italic">P</tspan> < .001</text>
<line x1="230.11" y1="330.8" x2="247.71" y2="330.8" stroke="#1a1a1a" stroke-width="1.2"/>
<rect x="43.5" y="318.5" width="213.5" height="180.5" fill="none" stroke="#353535" stroke-width="1.1"/>
<line x1="40.9" y1="491.3" x2="43.5" y2="491.3" stroke="#353535" stroke-width="1.1"/>
<text x="37.6" y="493.5" font-size="6.1" text-anchor="end" fill="#222" stroke="#222" stroke-width="0.15">0</text>
<line x1="40.9" y1="453.35" x2="43.5" y2="453.35" stroke="#353535" stroke-width="1.1"/>
<text x="37.6" y="455.55" font-size="6.1" text-anchor="end" fill="#222" stroke="#222" stroke-width="0.15">25</text>
<line x1="40.9" y1="415.4" x2="43.5" y2="415.4" stroke="#353535" stroke-width="1.1"/>
<text x="37.6" y="417.6" font-size="6.1" text-anchor="end" fill="#222" stroke="#222" stroke-width="0.15">50</text>
<line x1="40.9" y1="377.45" x2="43.5" y2="377.45" stroke="#353535" stroke-width="1.1"/>
<text x="37.6" y="379.65" font-size="6.1" text-anchor="end" fill="#222" stroke="#222" stroke-width="0.15">75</text>
<line x1="40.9" y1="339.5" x2="43.5" y2="339.5" stroke="#353535" stroke-width="1.1"/>
<text x="37.6" y="341.7" font-size="6.1" text-anchor="end" fill="#222" stroke="#222" stroke-width="0.15">100</text>
<line x1="61.29" y1="499" x2="61.29" y2="502.1" stroke="#353535" stroke-width="1.1"/>
<text transform="translate(61.19,507.4) rotate(-45)" font-size="6.3" text-anchor="end" fill="#222" stroke="#222" stroke-width="0.15">Total</text>
<line x1="90.94" y1="499" x2="90.94" y2="502.1" stroke="#353535" stroke-width="1.1"/>
<text transform="translate(90.84,507.4) rotate(-45)" font-size="6.3" text-anchor="end" fill="#222" stroke="#222" stroke-width="0.15">CAR+</text>
<line x1="120.6" y1="499" x2="120.6" y2="502.1" stroke="#353535" stroke-width="1.1"/>
<text transform="translate(120.5,507.4) rotate(-45)" font-size="6.3" text-anchor="end" fill="#222" stroke="#222" stroke-width="0.15">CAR+ CD8+</text>
<line x1="150.25" y1="499" x2="150.25" y2="502.1" stroke="#353535" stroke-width="1.1"/>
<text transform="translate(150.15,507.4) rotate(-45)" font-size="6.3" text-anchor="end" fill="#222" stroke="#222" stroke-width="0.15">CAR+ CD4+</text>
<line x1="179.9" y1="499" x2="179.9" y2="502.1" stroke="#353535" stroke-width="1.1"/>
<text transform="translate(179.8,507.4) rotate(-45)" font-size="6.3" text-anchor="end" fill="#222" stroke="#222" stroke-width="0.15">CAR−</text>
<line x1="209.56" y1="499" x2="209.56" y2="502.1" stroke="#353535" stroke-width="1.1"/>
<text transform="translate(209.46,507.4) rotate(-45)" font-size="6.3" text-anchor="end" fill="#222" stroke="#222" stroke-width="0.15">CAR− CD8+</text>
<line x1="239.21" y1="499" x2="239.21" y2="502.1" stroke="#353535" stroke-width="1.1"/>
<text transform="translate(239.11,507.4) rotate(-45)" font-size="6.3" text-anchor="end" fill="#222" stroke="#222" stroke-width="0.15">CAR− CD4+</text>
<text transform="translate(150.25,543.2) scale(0.73,1)" font-size="7.6" text-anchor="middle" fill="#1a1a1a" stroke="#1a1a1a" stroke-width="0.3">T cells type</text>
<text transform="translate(21.2,406.95) rotate(-90) scale(0.73,1)" font-size="7.6" text-anchor="middle" fill="#1a1a1a" stroke="#1a1a1a" stroke-width="0.3">Percent expression</text>
<text x="406.85" y="296.8" font-size="8.1" text-anchor="middle" fill="#1a1a1a" stroke="#1a1a1a" stroke-width="0.15">PD1</text>
<text x="336.45" y="311.7" font-size="5.9" fill="#222" stroke="#222" stroke-width="0.15">Cohort</text>
<line x1="367.95" y1="304.8" x2="367.95" y2="314.8" stroke="#4f88bf" stroke-width="0.8"/>
<rect x="363.75" y="307.1" width="8.4" height="4.4" fill="#aed6f5" stroke="#9cc2e2" stroke-width="0.4"/>
<line x1="363.75" y1="309.3" x2="372.15" y2="309.3" stroke="#4f88bf" stroke-width="0.8"/>
<circle cx="367.95" cy="309.2" r="0.85" fill="#3a70a8"/>
<line x1="421.05" y1="304.8" x2="421.05" y2="314.8" stroke="#5a9a4c" stroke-width="0.8"/>
<rect x="416.85" y="307.1" width="8.4" height="4.4" fill="#aad893" stroke="#a6c498" stroke-width="0.4"/>
<line x1="416.85" y1="309.3" x2="425.25" y2="309.3" stroke="#5a9a4c" stroke-width="0.8"/>
<circle cx="421.05" cy="309.2" r="0.85" fill="#3a6e38"/>
<text x="374.65" y="311.7" font-size="5.9" fill="#222" stroke="#222" stroke-width="0.15">CAR EBV-CTL</text>
<text x="428.45" y="311.7" font-size="5.9" fill="#222" stroke="#222" stroke-width="0.15">Autologous CAR T</text>
<line x1="312.47" y1="408.9" x2="312.47" y2="425.7" stroke="#7ca8d2" stroke-width="0.8"/>
<line x1="312.47" y1="461.7" x2="312.47" y2="469.8" stroke="#7ca8d2" stroke-width="0.8"/>
<rect x="307.67" y="425.7" width="9.6" height="36" fill="#aed6f5" stroke="#9cc2e2" stroke-width="0.5"/>
<line x1="307.67" y1="444.6" x2="317.27" y2="444.6" stroke="#4f88bf" stroke-width="1"/>
<circle cx="311.67" cy="465.06" r="0.85" fill="#3a70a8"/>
<circle cx="312.12" cy="457.75" r="0.85" fill="#3a70a8"/>
<circle cx="313.14" cy="443.39" r="0.85" fill="#3a70a8"/>
<circle cx="313.02" cy="455.39" r="0.85" fill="#3a70a8"/>
<circle cx="313.12" cy="452.36" r="0.85" fill="#3a70a8"/>
<circle cx="312.04" cy="427.16" r="0.85" fill="#3a70a8"/>
<circle cx="311.94" cy="445.64" r="0.85" fill="#3a70a8"/>
<circle cx="311.67" cy="453.42" r="0.85" fill="#3a70a8"/>
<circle cx="312.54" cy="412.61" r="0.85" fill="#3a70a8"/>
<circle cx="312.25" cy="422.63" r="0.85" fill="#3a70a8"/>
<circle cx="312.41" cy="410.38" r="0.85" fill="#3a70a8"/>
<circle cx="312.46" cy="446.02" r="0.85" fill="#3a70a8"/>
<circle cx="312.63" cy="420.34" r="0.85" fill="#3a70a8"/>
<circle cx="312.23" cy="443.08" r="0.85" fill="#3a70a8"/>
<circle cx="313.02" cy="420.51" r="0.85" fill="#3a70a8"/>
<circle cx="311.94" cy="446.72" r="0.85" fill="#3a70a8"/>
<circle cx="313.23" cy="468.32" r="0.85" fill="#3a70a8"/>
<circle cx="312.58" cy="462.88" r="0.85" fill="#3a70a8"/>
<circle cx="311.67" cy="444.36" r="0.85" fill="#3a70a8"/>
<circle cx="312.14" cy="425.51" r="0.85" fill="#3a70a8"/>
<circle cx="312.53" cy="435.14" r="0.85" fill="#3a70a8"/>
<circle cx="312.31" cy="434.88" r="0.85" fill="#3a70a8"/>
<circle cx="312.59" cy="466.2" r="0.85" fill="#3a70a8"/>
<circle cx="312.16" cy="440.83" r="0.85" fill="#3a70a8"/>
<circle cx="312.07" cy="408.9" r="0.85" fill="#3a70a8"/>
<circle cx="313.01" cy="469.8" r="0.85" fill="#3a70a8"/>
<circle cx="312.1" cy="354.7" r="0.85" fill="#3a70a8"/>
<line x1="323.47" y1="390.1" x2="323.47" y2="420.5" stroke="#6fa266" stroke-width="0.8"/>
<line x1="323.47" y1="456.2" x2="323.47" y2="483.4" stroke="#6fa266" stroke-width="0.8"/>
<rect x="318.67" y="420.5" width="9.6" height="35.7" fill="#aad893" stroke="#a6c498" stroke-width="0.5"/>
<line x1="318.67" y1="437.3" x2="328.27" y2="437.3" stroke="#5a9a4c" stroke-width="1"/>
<circle cx="323.16" cy="449.15" r="0.85" fill="#3a6e38"/>
<circle cx="324.09" cy="436.73" r="0.85" fill="#3a6e38"/>
<circle cx="322.85" cy="468.3" r="0.85" fill="#3a6e38"/>
<circle cx="324.01" cy="457.77" r="0.85" fill="#3a6e38"/>
<circle cx="324.34" cy="443.32" r="0.85" fill="#3a6e38"/>
<circle cx="323.28" cy="416.32" r="0.85" fill="#3a6e38"/>
<circle cx="322.63" cy="408.23" r="0.85" fill="#3a6e38"/>
<circle cx="323.26" cy="418.14" r="0.85" fill="#3a6e38"/>
<circle cx="323.73" cy="449.08" r="0.85" fill="#3a6e38"/>
<circle cx="322.98" cy="444.56" r="0.85" fill="#3a6e38"/>
<circle cx="323.56" cy="431.03" r="0.85" fill="#3a6e38"/>
<circle cx="322.74" cy="415.58" r="0.85" fill="#3a6e38"/>
<circle cx="323.41" cy="418" r="0.85" fill="#3a6e38"/>
<circle cx="323.89" cy="393.17" r="0.85" fill="#3a6e38"/>
<circle cx="323.35" cy="413.94" r="0.85" fill="#3a6e38"/>
<circle cx="323.8" cy="467.48" r="0.85" fill="#3a6e38"/>
<circle cx="322.78" cy="429.7" r="0.85" fill="#3a6e38"/>
<circle cx="324.07" cy="474.86" r="0.85" fill="#3a6e38"/>
<circle cx="322.79" cy="391.82" r="0.85" fill="#3a6e38"/>
<circle cx="324.24" cy="421.99" r="0.85" fill="#3a6e38"/>
<circle cx="324.37" cy="464.19" r="0.85" fill="#3a6e38"/>
<circle cx="324.27" cy="441.28" r="0.85" fill="#3a6e38"/>
<circle cx="323.52" cy="440.51" r="0.85" fill="#3a6e38"/>
<circle cx="323.1" cy="417.82" r="0.85" fill="#3a6e38"/>
<circle cx="323.2" cy="390.1" r="0.85" fill="#3a6e38"/>
<circle cx="323.93" cy="483.4" r="0.85" fill="#3a6e38"/>
<circle cx="323.47" cy="356.7" r="0.85" fill="#3a6e38"/>
<line x1="342.1" y1="344.6" x2="342.1" y2="400.2" stroke="#7ca8d2" stroke-width="0.8"/>
<line x1="342.1" y1="438.5" x2="342.1" y2="450.1" stroke="#7ca8d2" stroke-width="0.8"/>
<rect x="337.3" y="400.2" width="9.6" height="38.3" fill="#aed6f5" stroke="#9cc2e2" stroke-width="0.5"/>
<line x1="337.3" y1="418.2" x2="346.9" y2="418.2" stroke="#4f88bf" stroke-width="1"/>
<circle cx="342.77" cy="439.58" r="0.85" fill="#3a70a8"/>
<circle cx="342.06" cy="433.29" r="0.85" fill="#3a70a8"/>
<circle cx="341.47" cy="420.91" r="0.85" fill="#3a70a8"/>
<circle cx="341.37" cy="352.37" r="0.85" fill="#3a70a8"/>
<circle cx="342.78" cy="434.4" r="0.85" fill="#3a70a8"/>
<circle cx="341.41" cy="441.14" r="0.85" fill="#3a70a8"/>
<circle cx="342.09" cy="438.88" r="0.85" fill="#3a70a8"/>
<circle cx="342.16" cy="437.25" r="0.85" fill="#3a70a8"/>
<circle cx="341.41" cy="436.37" r="0.85" fill="#3a70a8"/>
<circle cx="342.04" cy="402.12" r="0.85" fill="#3a70a8"/>
<circle cx="341.5" cy="417.42" r="0.85" fill="#3a70a8"/>
<circle cx="342.16" cy="428.63" r="0.85" fill="#3a70a8"/>
<circle cx="342.11" cy="388.4" r="0.85" fill="#3a70a8"/>
<circle cx="341.86" cy="402.86" r="0.85" fill="#3a70a8"/>
<circle cx="341.56" cy="403.86" r="0.85" fill="#3a70a8"/>
<circle cx="341.93" cy="430.38" r="0.85" fill="#3a70a8"/>
<circle cx="341.57" cy="417.87" r="0.85" fill="#3a70a8"/>
<circle cx="341.43" cy="373.14" r="0.85" fill="#3a70a8"/>
<circle cx="341.63" cy="380.56" r="0.85" fill="#3a70a8"/>
<circle cx="342.77" cy="376.74" r="0.85" fill="#3a70a8"/>
<circle cx="342.1" cy="414.55" r="0.85" fill="#3a70a8"/>
<circle cx="342.8" cy="406.48" r="0.85" fill="#3a70a8"/>
<circle cx="341.23" cy="396.95" r="0.85" fill="#3a70a8"/>
<circle cx="342.9" cy="432.46" r="0.85" fill="#3a70a8"/>
<circle cx="342.08" cy="344.6" r="0.85" fill="#3a70a8"/>
<circle cx="342.62" cy="450.1" r="0.85" fill="#3a70a8"/>
<line x1="353.1" y1="349.5" x2="353.1" y2="399.6" stroke="#6fa266" stroke-width="0.8"/>
<line x1="353.1" y1="436.4" x2="353.1" y2="474.1" stroke="#6fa266" stroke-width="0.8"/>
<rect x="348.3" y="399.6" width="9.6" height="36.8" fill="#aad893" stroke="#a6c498" stroke-width="0.5"/>
<line x1="348.3" y1="421.1" x2="357.9" y2="421.1" stroke="#5a9a4c" stroke-width="1"/>
<circle cx="353.6" cy="424.95" r="0.85" fill="#3a6e38"/>
<circle cx="353.83" cy="427.2" r="0.85" fill="#3a6e38"/>
<circle cx="353.55" cy="362.74" r="0.85" fill="#3a6e38"/>
<circle cx="353.35" cy="369.2" r="0.85" fill="#3a6e38"/>
<circle cx="352.56" cy="410.34" r="0.85" fill="#3a6e38"/>
<circle cx="353.33" cy="439.58" r="0.85" fill="#3a6e38"/>
<circle cx="353.72" cy="408.21" r="0.85" fill="#3a6e38"/>
<circle cx="353.62" cy="428.45" r="0.85" fill="#3a6e38"/>
<circle cx="352.37" cy="401.89" r="0.85" fill="#3a6e38"/>
<circle cx="353.49" cy="421.65" r="0.85" fill="#3a6e38"/>
<circle cx="352.83" cy="437.95" r="0.85" fill="#3a6e38"/>
<circle cx="352.49" cy="425.06" r="0.85" fill="#3a6e38"/>
<circle cx="353.94" cy="449.3" r="0.85" fill="#3a6e38"/>
<circle cx="353.41" cy="453.81" r="0.85" fill="#3a6e38"/>
<circle cx="353.54" cy="436.81" r="0.85" fill="#3a6e38"/>
<circle cx="352.44" cy="451.93" r="0.85" fill="#3a6e38"/>
<circle cx="353.69" cy="402.84" r="0.85" fill="#3a6e38"/>
<circle cx="353.89" cy="426.6" r="0.85" fill="#3a6e38"/>
<circle cx="353.83" cy="405.17" r="0.85" fill="#3a6e38"/>
<circle cx="353.54" cy="404.77" r="0.85" fill="#3a6e38"/>
<circle cx="353.7" cy="360.5" r="0.85" fill="#3a6e38"/>
<circle cx="353.64" cy="435.52" r="0.85" fill="#3a6e38"/>
<circle cx="353.26" cy="466.24" r="0.85" fill="#3a6e38"/>
<circle cx="352.98" cy="417.9" r="0.85" fill="#3a6e38"/>
<circle cx="353.69" cy="349.5" r="0.85" fill="#3a6e38"/>
<circle cx="353.61" cy="474.1" r="0.85" fill="#3a6e38"/>
<line x1="371.73" y1="377.6" x2="371.73" y2="421.1" stroke="#7ca8d2" stroke-width="0.8"/>
<line x1="371.73" y1="448.9" x2="371.73" y2="459.6" stroke="#7ca8d2" stroke-width="0.8"/>
<rect x="366.93" y="421.1" width="9.6" height="27.8" fill="#aed6f5" stroke="#9cc2e2" stroke-width="0.5"/>
<line x1="366.93" y1="434.4" x2="376.53" y2="434.4" stroke="#4f88bf" stroke-width="1"/>
<circle cx="372.09" cy="452.1" r="0.85" fill="#3a70a8"/>
<circle cx="371.62" cy="454.59" r="0.85" fill="#3a70a8"/>
<circle cx="372.01" cy="450.14" r="0.85" fill="#3a70a8"/>
<circle cx="372.28" cy="457.33" r="0.85" fill="#3a70a8"/>
<circle cx="371.04" cy="444.41" r="0.85" fill="#3a70a8"/>
<circle cx="372.05" cy="426.6" r="0.85" fill="#3a70a8"/>
<circle cx="370.9" cy="427.68" r="0.85" fill="#3a70a8"/>
<circle cx="372.31" cy="446.35" r="0.85" fill="#3a70a8"/>
<circle cx="371.16" cy="440.85" r="0.85" fill="#3a70a8"/>
<circle cx="371.31" cy="442.89" r="0.85" fill="#3a70a8"/>
<circle cx="372.55" cy="456.21" r="0.85" fill="#3a70a8"/>
<circle cx="371.48" cy="457.74" r="0.85" fill="#3a70a8"/>
<circle cx="371.23" cy="423.52" r="0.85" fill="#3a70a8"/>
<circle cx="372.43" cy="444.35" r="0.85" fill="#3a70a8"/>
<circle cx="371.92" cy="437.64" r="0.85" fill="#3a70a8"/>
<circle cx="372.43" cy="457.38" r="0.85" fill="#3a70a8"/>
<circle cx="371.53" cy="398.87" r="0.85" fill="#3a70a8"/>
<circle cx="371.72" cy="382.41" r="0.85" fill="#3a70a8"/>
<circle cx="372.55" cy="453.38" r="0.85" fill="#3a70a8"/>
<circle cx="371.74" cy="433.82" r="0.85" fill="#3a70a8"/>
<circle cx="372.6" cy="427.04" r="0.85" fill="#3a70a8"/>
<circle cx="371.17" cy="444.58" r="0.85" fill="#3a70a8"/>
<circle cx="372.32" cy="429.22" r="0.85" fill="#3a70a8"/>
<circle cx="371.12" cy="389.39" r="0.85" fill="#3a70a8"/>
<circle cx="371.77" cy="377.6" r="0.85" fill="#3a70a8"/>
<circle cx="370.83" cy="459.6" r="0.85" fill="#3a70a8"/>
<line x1="382.73" y1="419.9" x2="382.73" y2="447.2" stroke="#6fa266" stroke-width="0.8"/>
<line x1="382.73" y1="476.4" x2="382.73" y2="488" stroke="#6fa266" stroke-width="0.8"/>
<rect x="377.93" y="447.2" width="9.6" height="29.2" fill="#aad893" stroke="#a6c498" stroke-width="0.5"/>
<line x1="377.93" y1="464" x2="387.53" y2="464" stroke="#5a9a4c" stroke-width="1"/>
<circle cx="382.98" cy="445.7" r="0.85" fill="#3a6e38"/>
<circle cx="382.33" cy="470.83" r="0.85" fill="#3a6e38"/>
<circle cx="383.2" cy="457.49" r="0.85" fill="#3a6e38"/>
<circle cx="382.35" cy="434.99" r="0.85" fill="#3a6e38"/>
<circle cx="382.8" cy="482.36" r="0.85" fill="#3a6e38"/>
<circle cx="382.58" cy="474.32" r="0.85" fill="#3a6e38"/>
<circle cx="383.59" cy="484.13" r="0.85" fill="#3a6e38"/>
<circle cx="382.99" cy="436.94" r="0.85" fill="#3a6e38"/>
<circle cx="383.27" cy="475.17" r="0.85" fill="#3a6e38"/>
<circle cx="383.04" cy="466.51" r="0.85" fill="#3a6e38"/>
<circle cx="382.51" cy="458.18" r="0.85" fill="#3a6e38"/>
<circle cx="383.56" cy="466.96" r="0.85" fill="#3a6e38"/>
<circle cx="383.1" cy="482.18" r="0.85" fill="#3a6e38"/>
<circle cx="383.07" cy="475.7" r="0.85" fill="#3a6e38"/>
<circle cx="382.32" cy="442.69" r="0.85" fill="#3a6e38"/>
<circle cx="382.12" cy="463.48" r="0.85" fill="#3a6e38"/>
<circle cx="382.86" cy="469.13" r="0.85" fill="#3a6e38"/>
<circle cx="383.31" cy="484.85" r="0.85" fill="#3a6e38"/>
<circle cx="383.25" cy="448.23" r="0.85" fill="#3a6e38"/>
<circle cx="382.45" cy="451.2" r="0.85" fill="#3a6e38"/>
<circle cx="382.08" cy="486.74" r="0.85" fill="#3a6e38"/>
<circle cx="382.75" cy="435.94" r="0.85" fill="#3a6e38"/>
<circle cx="383.4" cy="448.56" r="0.85" fill="#3a6e38"/>
<circle cx="382.12" cy="469.02" r="0.85" fill="#3a6e38"/>
<circle cx="383.15" cy="419.9" r="0.85" fill="#3a6e38"/>
<circle cx="382.13" cy="488" r="0.85" fill="#3a6e38"/>
<circle cx="382.39" cy="354.7" r="0.85" fill="#3a6e38"/>
<circle cx="381.92" cy="368.9" r="0.85" fill="#3a6e38"/>
<line x1="401.35" y1="343.1" x2="401.35" y2="374.7" stroke="#7ca8d2" stroke-width="0.8"/>
<line x1="401.35" y1="411.2" x2="401.35" y2="427.2" stroke="#7ca8d2" stroke-width="0.8"/>
<rect x="396.55" y="374.7" width="9.6" height="36.5" fill="#aed6f5" stroke="#9cc2e2" stroke-width="0.5"/>
<line x1="396.55" y1="387.8" x2="406.15" y2="387.8" stroke="#4f88bf" stroke-width="1"/>
<circle cx="401.19" cy="388.68" r="0.85" fill="#3a70a8"/>
<circle cx="401.9" cy="426.59" r="0.85" fill="#3a70a8"/>
<circle cx="400.65" cy="352.88" r="0.85" fill="#3a70a8"/>
<circle cx="401" cy="414.36" r="0.85" fill="#3a70a8"/>
<circle cx="401.61" cy="390.7" r="0.85" fill="#3a70a8"/>
<circle cx="402.19" cy="351.32" r="0.85" fill="#3a70a8"/>
<circle cx="401.59" cy="388.77" r="0.85" fill="#3a70a8"/>
<circle cx="401.7" cy="415.47" r="0.85" fill="#3a70a8"/>
<circle cx="401.84" cy="371.82" r="0.85" fill="#3a70a8"/>
<circle cx="401.16" cy="405.25" r="0.85" fill="#3a70a8"/>
<circle cx="402.14" cy="403.12" r="0.85" fill="#3a70a8"/>
<circle cx="401.79" cy="380.25" r="0.85" fill="#3a70a8"/>
<circle cx="401.07" cy="391.86" r="0.85" fill="#3a70a8"/>
<circle cx="401.16" cy="399.18" r="0.85" fill="#3a70a8"/>
<circle cx="401.9" cy="384.75" r="0.85" fill="#3a70a8"/>
<circle cx="401.08" cy="408.19" r="0.85" fill="#3a70a8"/>
<circle cx="400.78" cy="385.23" r="0.85" fill="#3a70a8"/>
<circle cx="402.02" cy="384.18" r="0.85" fill="#3a70a8"/>
<circle cx="401.41" cy="376.21" r="0.85" fill="#3a70a8"/>
<circle cx="401.39" cy="420.26" r="0.85" fill="#3a70a8"/>
<circle cx="401.65" cy="409.01" r="0.85" fill="#3a70a8"/>
<circle cx="402.07" cy="383.58" r="0.85" fill="#3a70a8"/>
<circle cx="400.69" cy="360.43" r="0.85" fill="#3a70a8"/>
<circle cx="401.06" cy="399.45" r="0.85" fill="#3a70a8"/>
<circle cx="400.57" cy="343.1" r="0.85" fill="#3a70a8"/>
<circle cx="401.19" cy="427.2" r="0.85" fill="#3a70a8"/>
<line x1="412.35" y1="348" x2="412.35" y2="379.1" stroke="#6fa266" stroke-width="0.8"/>
<line x1="412.35" y1="424.3" x2="412.35" y2="462.5" stroke="#6fa266" stroke-width="0.8"/>
<rect x="407.55" y="379.1" width="9.6" height="45.2" fill="#aad893" stroke="#a6c498" stroke-width="0.5"/>
<line x1="407.55" y1="399.3" x2="417.15" y2="399.3" stroke="#5a9a4c" stroke-width="1"/>
<circle cx="411.52" cy="417.61" r="0.85" fill="#3a6e38"/>
<circle cx="412.94" cy="405.22" r="0.85" fill="#3a6e38"/>
<circle cx="411.65" cy="405.03" r="0.85" fill="#3a6e38"/>
<circle cx="411.85" cy="417.28" r="0.85" fill="#3a6e38"/>
<circle cx="412.58" cy="456.33" r="0.85" fill="#3a6e38"/>
<circle cx="412.06" cy="368.89" r="0.85" fill="#3a6e38"/>
<circle cx="412.05" cy="401.73" r="0.85" fill="#3a6e38"/>
<circle cx="412.47" cy="458.63" r="0.85" fill="#3a6e38"/>
<circle cx="411.84" cy="416.21" r="0.85" fill="#3a6e38"/>
<circle cx="412.88" cy="418.82" r="0.85" fill="#3a6e38"/>
<circle cx="411.83" cy="369.9" r="0.85" fill="#3a6e38"/>
<circle cx="412.96" cy="406.78" r="0.85" fill="#3a6e38"/>
<circle cx="412.91" cy="382.14" r="0.85" fill="#3a6e38"/>
<circle cx="412.42" cy="416.36" r="0.85" fill="#3a6e38"/>
<circle cx="411.5" cy="388.73" r="0.85" fill="#3a6e38"/>
<circle cx="412.85" cy="383.34" r="0.85" fill="#3a6e38"/>
<circle cx="411.5" cy="423.16" r="0.85" fill="#3a6e38"/>
<circle cx="412.36" cy="438.04" r="0.85" fill="#3a6e38"/>
<circle cx="412.21" cy="382.36" r="0.85" fill="#3a6e38"/>
<circle cx="411.56" cy="436.72" r="0.85" fill="#3a6e38"/>
<circle cx="412.58" cy="367.57" r="0.85" fill="#3a6e38"/>
<circle cx="412.75" cy="356.55" r="0.85" fill="#3a6e38"/>
<circle cx="412.5" cy="361.86" r="0.85" fill="#3a6e38"/>
<circle cx="412.17" cy="415.59" r="0.85" fill="#3a6e38"/>
<circle cx="412.37" cy="348" r="0.85" fill="#3a6e38"/>
<circle cx="412.51" cy="462.5" r="0.85" fill="#3a6e38"/>
<line x1="430.97" y1="411.8" x2="430.97" y2="428.3" stroke="#7ca8d2" stroke-width="0.8"/>
<line x1="430.97" y1="463.1" x2="430.97" y2="471.2" stroke="#7ca8d2" stroke-width="0.8"/>
<rect x="426.17" y="428.3" width="9.6" height="34.8" fill="#aed6f5" stroke="#9cc2e2" stroke-width="0.5"/>
<line x1="426.17" y1="446" x2="435.77" y2="446" stroke="#4f88bf" stroke-width="1"/>
<circle cx="430.71" cy="458.49" r="0.85" fill="#3a70a8"/>
<circle cx="431.69" cy="469.61" r="0.85" fill="#3a70a8"/>
<circle cx="431.52" cy="465.77" r="0.85" fill="#3a70a8"/>
<circle cx="430.89" cy="463.68" r="0.85" fill="#3a70a8"/>
<circle cx="430.26" cy="432.95" r="0.85" fill="#3a70a8"/>
<circle cx="430.27" cy="452.06" r="0.85" fill="#3a70a8"/>
<circle cx="430.35" cy="444.12" r="0.85" fill="#3a70a8"/>
<circle cx="431.47" cy="434.91" r="0.85" fill="#3a70a8"/>
<circle cx="430.92" cy="438.13" r="0.85" fill="#3a70a8"/>
<circle cx="431.86" cy="423.94" r="0.85" fill="#3a70a8"/>
<circle cx="431.72" cy="443.56" r="0.85" fill="#3a70a8"/>
<circle cx="431.51" cy="423.41" r="0.85" fill="#3a70a8"/>
<circle cx="430.93" cy="416.18" r="0.85" fill="#3a70a8"/>
<circle cx="431.55" cy="452.7" r="0.85" fill="#3a70a8"/>
<circle cx="430.31" cy="469.16" r="0.85" fill="#3a70a8"/>
<circle cx="430.27" cy="470.55" r="0.85" fill="#3a70a8"/>
<circle cx="431.09" cy="453.34" r="0.85" fill="#3a70a8"/>
<circle cx="430.99" cy="415.19" r="0.85" fill="#3a70a8"/>
<circle cx="430.45" cy="426.05" r="0.85" fill="#3a70a8"/>
<circle cx="430.53" cy="450.23" r="0.85" fill="#3a70a8"/>
<circle cx="430.11" cy="440.67" r="0.85" fill="#3a70a8"/>
<circle cx="431.71" cy="422.23" r="0.85" fill="#3a70a8"/>
<circle cx="431.35" cy="465.58" r="0.85" fill="#3a70a8"/>
<circle cx="431.78" cy="414.69" r="0.85" fill="#3a70a8"/>
<circle cx="431.84" cy="411.8" r="0.85" fill="#3a70a8"/>
<circle cx="430.86" cy="471.2" r="0.85" fill="#3a70a8"/>
<circle cx="431.39" cy="355.3" r="0.85" fill="#3a70a8"/>
<line x1="441.97" y1="396.4" x2="441.97" y2="426.3" stroke="#6fa266" stroke-width="0.8"/>
<line x1="441.97" y1="464" x2="441.97" y2="484.3" stroke="#6fa266" stroke-width="0.8"/>
<rect x="437.17" y="426.3" width="9.6" height="37.7" fill="#aad893" stroke="#a6c498" stroke-width="0.5"/>
<line x1="437.17" y1="444.3" x2="446.77" y2="444.3" stroke="#5a9a4c" stroke-width="1"/>
<circle cx="441.19" cy="456.91" r="0.85" fill="#3a6e38"/>
<circle cx="441.5" cy="466.72" r="0.85" fill="#3a6e38"/>
<circle cx="442.85" cy="402.8" r="0.85" fill="#3a6e38"/>
<circle cx="441.49" cy="440.58" r="0.85" fill="#3a6e38"/>
<circle cx="441.78" cy="421.23" r="0.85" fill="#3a6e38"/>
<circle cx="442.49" cy="473.41" r="0.85" fill="#3a6e38"/>
<circle cx="442.56" cy="422.98" r="0.85" fill="#3a6e38"/>
<circle cx="442.22" cy="428.98" r="0.85" fill="#3a6e38"/>
<circle cx="442.41" cy="449.85" r="0.85" fill="#3a6e38"/>
<circle cx="441.14" cy="473.84" r="0.85" fill="#3a6e38"/>
<circle cx="441.24" cy="434.06" r="0.85" fill="#3a6e38"/>
<circle cx="442.83" cy="460.45" r="0.85" fill="#3a6e38"/>
<circle cx="442.52" cy="430.22" r="0.85" fill="#3a6e38"/>
<circle cx="441.14" cy="431.06" r="0.85" fill="#3a6e38"/>
<circle cx="441.16" cy="410.05" r="0.85" fill="#3a6e38"/>
<circle cx="441.51" cy="450.29" r="0.85" fill="#3a6e38"/>
<circle cx="442.75" cy="442.87" r="0.85" fill="#3a6e38"/>
<circle cx="441.47" cy="418.06" r="0.85" fill="#3a6e38"/>
<circle cx="442.28" cy="410.47" r="0.85" fill="#3a6e38"/>
<circle cx="442.75" cy="451.67" r="0.85" fill="#3a6e38"/>
<circle cx="442.22" cy="435.34" r="0.85" fill="#3a6e38"/>
<circle cx="442.73" cy="452.39" r="0.85" fill="#3a6e38"/>
<circle cx="441.55" cy="431.64" r="0.85" fill="#3a6e38"/>
<circle cx="441.35" cy="476.16" r="0.85" fill="#3a6e38"/>
<circle cx="441.11" cy="396.4" r="0.85" fill="#3a6e38"/>
<circle cx="442.44" cy="484.3" r="0.85" fill="#3a6e38"/>
<circle cx="441.26" cy="358.2" r="0.85" fill="#3a6e38"/>
<line x1="460.6" y1="427.2" x2="460.6" y2="445.1" stroke="#7ca8d2" stroke-width="0.8"/>
<line x1="460.6" y1="465.4" x2="460.6" y2="476.4" stroke="#7ca8d2" stroke-width="0.8"/>
<rect x="455.8" y="445.1" width="9.6" height="20.3" fill="#aed6f5" stroke="#9cc2e2" stroke-width="0.5"/>
<line x1="455.8" y1="462.5" x2="465.4" y2="462.5" stroke="#4f88bf" stroke-width="1"/>
<circle cx="461.08" cy="473.21" r="0.85" fill="#3a70a8"/>
<circle cx="459.71" cy="441.65" r="0.85" fill="#3a70a8"/>
<circle cx="459.83" cy="436.37" r="0.85" fill="#3a70a8"/>
<circle cx="459.9" cy="441.29" r="0.85" fill="#3a70a8"/>
<circle cx="460.95" cy="475.48" r="0.85" fill="#3a70a8"/>
<circle cx="460.78" cy="442.44" r="0.85" fill="#3a70a8"/>
<circle cx="460.64" cy="461.77" r="0.85" fill="#3a70a8"/>
<circle cx="460.52" cy="457.68" r="0.85" fill="#3a70a8"/>
<circle cx="460.43" cy="461.33" r="0.85" fill="#3a70a8"/>
<circle cx="460.8" cy="428.17" r="0.85" fill="#3a70a8"/>
<circle cx="460.87" cy="451.01" r="0.85" fill="#3a70a8"/>
<circle cx="461.35" cy="445.25" r="0.85" fill="#3a70a8"/>
<circle cx="461.02" cy="445.59" r="0.85" fill="#3a70a8"/>
<circle cx="461.13" cy="474.33" r="0.85" fill="#3a70a8"/>
<circle cx="461.34" cy="447.58" r="0.85" fill="#3a70a8"/>
<circle cx="461.21" cy="449.3" r="0.85" fill="#3a70a8"/>
<circle cx="460.99" cy="447.34" r="0.85" fill="#3a70a8"/>
<circle cx="459.76" cy="471.41" r="0.85" fill="#3a70a8"/>
<circle cx="460.93" cy="447.01" r="0.85" fill="#3a70a8"/>
<circle cx="461.23" cy="462.35" r="0.85" fill="#3a70a8"/>
<circle cx="460.48" cy="466.52" r="0.85" fill="#3a70a8"/>
<circle cx="461.28" cy="451.25" r="0.85" fill="#3a70a8"/>
<circle cx="460.02" cy="448.1" r="0.85" fill="#3a70a8"/>
<circle cx="461.4" cy="464.96" r="0.85" fill="#3a70a8"/>
<circle cx="460.5" cy="427.2" r="0.85" fill="#3a70a8"/>
<circle cx="460.97" cy="476.4" r="0.85" fill="#3a70a8"/>
<circle cx="460.15" cy="409.8" r="0.85" fill="#3a70a8"/>
<line x1="471.6" y1="449.5" x2="471.6" y2="468.9" stroke="#6fa266" stroke-width="0.8"/>
<line x1="471.6" y1="482.2" x2="471.6" y2="490" stroke="#6fa266" stroke-width="0.8"/>
<rect x="466.8" y="468.9" width="9.6" height="13.3" fill="#aad893" stroke="#a6c498" stroke-width="0.5"/>
<line x1="466.8" y1="475.6" x2="476.4" y2="475.6" stroke="#5a9a4c" stroke-width="1"/>
<circle cx="472.48" cy="473.53" r="0.85" fill="#3a6e38"/>
<circle cx="471.02" cy="470.16" r="0.85" fill="#3a6e38"/>
<circle cx="471.49" cy="481.95" r="0.85" fill="#3a6e38"/>
<circle cx="471.94" cy="481.3" r="0.85" fill="#3a6e38"/>
<circle cx="471.94" cy="480.03" r="0.85" fill="#3a6e38"/>
<circle cx="472.04" cy="488.07" r="0.85" fill="#3a6e38"/>
<circle cx="472.06" cy="472.22" r="0.85" fill="#3a6e38"/>
<circle cx="471.15" cy="469.18" r="0.85" fill="#3a6e38"/>
<circle cx="471.16" cy="480.69" r="0.85" fill="#3a6e38"/>
<circle cx="470.75" cy="484.76" r="0.85" fill="#3a6e38"/>
<circle cx="471.94" cy="479.21" r="0.85" fill="#3a6e38"/>
<circle cx="471.08" cy="488.4" r="0.85" fill="#3a6e38"/>
<circle cx="471.17" cy="470.29" r="0.85" fill="#3a6e38"/>
<circle cx="472.44" cy="484.65" r="0.85" fill="#3a6e38"/>
<circle cx="471.86" cy="473.78" r="0.85" fill="#3a6e38"/>
<circle cx="471.76" cy="481.74" r="0.85" fill="#3a6e38"/>
<circle cx="471.88" cy="459.8" r="0.85" fill="#3a6e38"/>
<circle cx="471.78" cy="476.06" r="0.85" fill="#3a6e38"/>
<circle cx="471.95" cy="485.38" r="0.85" fill="#3a6e38"/>
<circle cx="471.25" cy="487.58" r="0.85" fill="#3a6e38"/>
<circle cx="470.82" cy="482.9" r="0.85" fill="#3a6e38"/>
<circle cx="470.82" cy="455.08" r="0.85" fill="#3a6e38"/>
<circle cx="470.73" cy="482.31" r="0.85" fill="#3a6e38"/>
<circle cx="471.35" cy="478.42" r="0.85" fill="#3a6e38"/>
<circle cx="470.96" cy="449.5" r="0.85" fill="#3a6e38"/>
<circle cx="470.9" cy="490" r="0.85" fill="#3a6e38"/>
<circle cx="471.59" cy="375" r="0.85" fill="#3a6e38"/>
<circle cx="472.45" cy="382.8" r="0.85" fill="#3a6e38"/>
<circle cx="471.94" cy="433.6" r="0.85" fill="#3a6e38"/>
<circle cx="471.19" cy="442.2" r="0.85" fill="#3a6e38"/>
<line x1="490.22" y1="351" x2="490.22" y2="394.4" stroke="#7ca8d2" stroke-width="0.8"/>
<line x1="490.22" y1="425.7" x2="490.22" y2="453.3" stroke="#7ca8d2" stroke-width="0.8"/>
<rect x="485.42" y="394.4" width="9.6" height="31.3" fill="#aed6f5" stroke="#9cc2e2" stroke-width="0.5"/>
<line x1="485.42" y1="419" x2="495.02" y2="419" stroke="#4f88bf" stroke-width="1"/>
<circle cx="490.76" cy="399.97" r="0.85" fill="#3a70a8"/>
<circle cx="489.84" cy="364.16" r="0.85" fill="#3a70a8"/>
<circle cx="490.01" cy="415.98" r="0.85" fill="#3a70a8"/>
<circle cx="490.7" cy="417.2" r="0.85" fill="#3a70a8"/>
<circle cx="489.73" cy="391.46" r="0.85" fill="#3a70a8"/>
<circle cx="489.67" cy="420.45" r="0.85" fill="#3a70a8"/>
<circle cx="489.72" cy="386.97" r="0.85" fill="#3a70a8"/>
<circle cx="490.02" cy="421.16" r="0.85" fill="#3a70a8"/>
<circle cx="489.98" cy="444.21" r="0.85" fill="#3a70a8"/>
<circle cx="490.48" cy="394.71" r="0.85" fill="#3a70a8"/>
<circle cx="490.17" cy="390.27" r="0.85" fill="#3a70a8"/>
<circle cx="490.89" cy="379.61" r="0.85" fill="#3a70a8"/>
<circle cx="489.42" cy="415.1" r="0.85" fill="#3a70a8"/>
<circle cx="490.52" cy="357.23" r="0.85" fill="#3a70a8"/>
<circle cx="490.83" cy="393.65" r="0.85" fill="#3a70a8"/>
<circle cx="489.75" cy="414.81" r="0.85" fill="#3a70a8"/>
<circle cx="489.38" cy="401.39" r="0.85" fill="#3a70a8"/>
<circle cx="490.11" cy="351.64" r="0.85" fill="#3a70a8"/>
<circle cx="489.53" cy="429.29" r="0.85" fill="#3a70a8"/>
<circle cx="490.15" cy="435.74" r="0.85" fill="#3a70a8"/>
<circle cx="490.61" cy="398.73" r="0.85" fill="#3a70a8"/>
<circle cx="489.49" cy="432.65" r="0.85" fill="#3a70a8"/>
<circle cx="489.54" cy="410.77" r="0.85" fill="#3a70a8"/>
<circle cx="490.19" cy="361.78" r="0.85" fill="#3a70a8"/>
<circle cx="489.64" cy="351" r="0.85" fill="#3a70a8"/>
<circle cx="489.74" cy="453.3" r="0.85" fill="#3a70a8"/>
<line x1="501.22" y1="351" x2="501.22" y2="398.2" stroke="#6fa266" stroke-width="0.8"/>
<line x1="501.22" y1="448.9" x2="501.22" y2="475" stroke="#6fa266" stroke-width="0.8"/>
<rect x="496.42" y="398.2" width="9.6" height="50.7" fill="#aad893" stroke="#a6c498" stroke-width="0.5"/>
<line x1="496.42" y1="429.2" x2="506.02" y2="429.2" stroke="#5a9a4c" stroke-width="1"/>
<circle cx="501.77" cy="404.2" r="0.85" fill="#3a6e38"/>
<circle cx="502.03" cy="368.05" r="0.85" fill="#3a6e38"/>
<circle cx="501.66" cy="445.69" r="0.85" fill="#3a6e38"/>
<circle cx="501.87" cy="401.83" r="0.85" fill="#3a6e38"/>
<circle cx="500.99" cy="435.93" r="0.85" fill="#3a6e38"/>
<circle cx="501.95" cy="442.32" r="0.85" fill="#3a6e38"/>
<circle cx="500.65" cy="471.29" r="0.85" fill="#3a6e38"/>
<circle cx="500.73" cy="395.54" r="0.85" fill="#3a6e38"/>
<circle cx="501.4" cy="410.35" r="0.85" fill="#3a6e38"/>
<circle cx="501.95" cy="391.81" r="0.85" fill="#3a6e38"/>
<circle cx="500.47" cy="354.92" r="0.85" fill="#3a6e38"/>
<circle cx="500.72" cy="445.05" r="0.85" fill="#3a6e38"/>
<circle cx="500.39" cy="435.28" r="0.85" fill="#3a6e38"/>
<circle cx="501.12" cy="372.38" r="0.85" fill="#3a6e38"/>
<circle cx="500.58" cy="408.61" r="0.85" fill="#3a6e38"/>
<circle cx="500.67" cy="416.51" r="0.85" fill="#3a6e38"/>
<circle cx="501.67" cy="397.45" r="0.85" fill="#3a6e38"/>
<circle cx="501.37" cy="407.32" r="0.85" fill="#3a6e38"/>
<circle cx="502.02" cy="381.82" r="0.85" fill="#3a6e38"/>
<circle cx="501.05" cy="399.44" r="0.85" fill="#3a6e38"/>
<circle cx="501.55" cy="435.74" r="0.85" fill="#3a6e38"/>
<circle cx="500.35" cy="410.07" r="0.85" fill="#3a6e38"/>
<circle cx="502.03" cy="428.87" r="0.85" fill="#3a6e38"/>
<circle cx="500.74" cy="405.55" r="0.85" fill="#3a6e38"/>
<circle cx="501.18" cy="351" r="0.85" fill="#3a6e38"/>
<circle cx="501.25" cy="475" r="0.85" fill="#3a6e38"/>
<text x="317.97" y="327.1" font-size="6.1" text-anchor="middle" fill="#222" stroke="#222" stroke-width="0.18"><tspan font-style="italic">P</tspan> = .99</text>
<line x1="308.87" y1="330.8" x2="326.47" y2="330.8" stroke="#1a1a1a" stroke-width="1.2"/>
<text x="347.6" y="327.1" font-size="6.1" text-anchor="middle" fill="#222" stroke="#222" stroke-width="0.18"><tspan font-style="italic">P</tspan> = .63</text>
<line x1="338.5" y1="330.8" x2="356.1" y2="330.8" stroke="#1a1a1a" stroke-width="1.2"/>
<text x="377.23" y="327.1" font-size="6.1" text-anchor="middle" fill="#222" stroke="#222" stroke-width="0.18"><tspan font-style="italic">P</tspan> < .001</text>
<line x1="368.12" y1="330.8" x2="385.73" y2="330.8" stroke="#1a1a1a" stroke-width="1.2"/>
<text x="406.85" y="327.1" font-size="6.1" text-anchor="middle" fill="#222" stroke="#222" stroke-width="0.18"><tspan font-style="italic">P</tspan> = .23</text>
<line x1="397.75" y1="330.8" x2="415.35" y2="330.8" stroke="#1a1a1a" stroke-width="1.2"/>
<text x="436.47" y="327.1" font-size="6.1" text-anchor="middle" fill="#222" stroke="#222" stroke-width="0.18"><tspan font-style="italic">P</tspan> = .86</text>
<line x1="427.37" y1="330.8" x2="444.97" y2="330.8" stroke="#1a1a1a" stroke-width="1.2"/>
<text x="466.1" y="327.1" font-size="6.1" text-anchor="middle" fill="#222" stroke="#222" stroke-width="0.18"><tspan font-style="italic">P</tspan> = .001</text>
<line x1="457" y1="330.8" x2="474.6" y2="330.8" stroke="#1a1a1a" stroke-width="1.2"/>
<text x="495.72" y="327.1" font-size="6.1" text-anchor="middle" fill="#222" stroke="#222" stroke-width="0.18"><tspan font-style="italic">P</tspan> = .11</text>
<line x1="486.62" y1="330.8" x2="504.22" y2="330.8" stroke="#1a1a1a" stroke-width="1.2"/>
<rect x="300.2" y="318.5" width="213.3" height="180.5" fill="none" stroke="#353535" stroke-width="1.1"/>
<line x1="297.6" y1="491.3" x2="300.2" y2="491.3" stroke="#353535" stroke-width="1.1"/>
<text x="294.3" y="493.5" font-size="6.1" text-anchor="end" fill="#222" stroke="#222" stroke-width="0.15">0</text>
<line x1="297.6" y1="453.35" x2="300.2" y2="453.35" stroke="#353535" stroke-width="1.1"/>
<text x="294.3" y="455.55" font-size="6.1" text-anchor="end" fill="#222" stroke="#222" stroke-width="0.15">25</text>
<line x1="297.6" y1="415.4" x2="300.2" y2="415.4" stroke="#353535" stroke-width="1.1"/>
<text x="294.3" y="417.6" font-size="6.1" text-anchor="end" fill="#222" stroke="#222" stroke-width="0.15">50</text>
<line x1="297.6" y1="377.45" x2="300.2" y2="377.45" stroke="#353535" stroke-width="1.1"/>
<text x="294.3" y="379.65" font-size="6.1" text-anchor="end" fill="#222" stroke="#222" stroke-width="0.15">75</text>
<line x1="297.6" y1="339.5" x2="300.2" y2="339.5" stroke="#353535" stroke-width="1.1"/>
<text x="294.3" y="341.7" font-size="6.1" text-anchor="end" fill="#222" stroke="#222" stroke-width="0.15">100</text>
<line x1="317.97" y1="499" x2="317.97" y2="502.1" stroke="#353535" stroke-width="1.1"/>
<text transform="translate(317.87,507.8) rotate(-45)" font-size="6.3" text-anchor="end" fill="#222" stroke="#222" stroke-width="0.15">Total</text>
<line x1="347.6" y1="499" x2="347.6" y2="502.1" stroke="#353535" stroke-width="1.1"/>
<text transform="translate(347.5,507.8) rotate(-45)" font-size="6.3" text-anchor="end" fill="#222" stroke="#222" stroke-width="0.15">CAR+</text>
<line x1="377.23" y1="499" x2="377.23" y2="502.1" stroke="#353535" stroke-width="1.1"/>
<text transform="translate(377.12,507.8) rotate(-45)" font-size="6.3" text-anchor="end" fill="#222" stroke="#222" stroke-width="0.15">CAR+ CD8+</text>
<line x1="406.85" y1="499" x2="406.85" y2="502.1" stroke="#353535" stroke-width="1.1"/>
<text transform="translate(406.75,507.8) rotate(-45)" font-size="6.3" text-anchor="end" fill="#222" stroke="#222" stroke-width="0.15">CAR+ CD4+</text>
<line x1="436.47" y1="499" x2="436.47" y2="502.1" stroke="#353535" stroke-width="1.1"/>
<text transform="translate(436.37,507.8) rotate(-45)" font-size="6.3" text-anchor="end" fill="#222" stroke="#222" stroke-width="0.15">CAR−</text>
<line x1="466.1" y1="499" x2="466.1" y2="502.1" stroke="#353535" stroke-width="1.1"/>
<text transform="translate(466,507.8) rotate(-45)" font-size="6.3" text-anchor="end" fill="#222" stroke="#222" stroke-width="0.15">CAR− CD8+</text>
<line x1="495.72" y1="499" x2="495.72" y2="502.1" stroke="#353535" stroke-width="1.1"/>
<text transform="translate(495.62,507.8) rotate(-45)" font-size="6.3" text-anchor="end" fill="#222" stroke="#222" stroke-width="0.15">CAR− CD4+</text>
<text transform="translate(406.85,543.2) scale(0.73,1)" font-size="7.6" text-anchor="middle" fill="#1a1a1a" stroke="#1a1a1a" stroke-width="0.3">T cells type</text>
<text transform="translate(277.2,406.95) rotate(-90) scale(0.73,1)" font-size="7.6" text-anchor="middle" fill="#1a1a1a" stroke="#1a1a1a" stroke-width="0.3">Percent expression</text>
</svg></body></html>
